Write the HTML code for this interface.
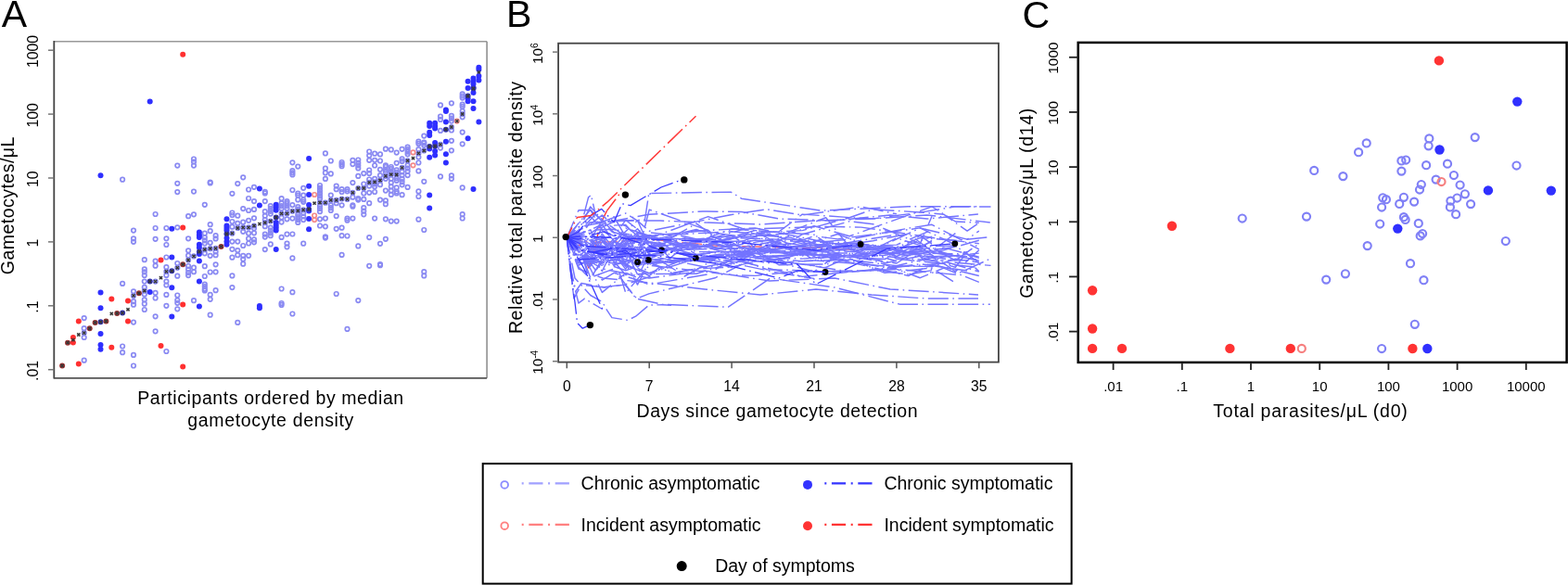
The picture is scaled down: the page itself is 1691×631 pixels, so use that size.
<!DOCTYPE html>
<html><head><meta charset="utf-8"><title>Figure</title>
<style>
html,body{margin:0;padding:0;background:#fff;overflow:hidden;}
svg{display:block;font-family:'Liberation Sans', Arial, Helvetica, sans-serif;fill:#000;}
text{fill:#000;}
</style></head><body>
<svg width="1691" height="631" viewBox="0 0 1691 631">
<rect width="1691" height="631" fill="#fff"/>
<text x="1.80" y="28.80" font-size="41" text-anchor="start" >A</text>
<circle cx="90.7" cy="343.1" r="2.25" fill="none" stroke="#8a8af2" stroke-width="1.7"/>
<circle cx="90.7" cy="354.2" r="2.25" fill="none" stroke="#8a8af2" stroke-width="1.7"/>
<circle cx="90.7" cy="359.1" r="2.25" fill="none" stroke="#8a8af2" stroke-width="1.7"/>
<circle cx="90.7" cy="364.0" r="2.25" fill="none" stroke="#8a8af2" stroke-width="1.7"/>
<circle cx="90.7" cy="388.7" r="2.25" fill="none" stroke="#8a8af2" stroke-width="1.7"/>
<circle cx="132.1" cy="193.7" r="2.25" fill="none" stroke="#8a8af2" stroke-width="1.7"/>
<circle cx="132.1" cy="305.9" r="2.25" fill="none" stroke="#8a8af2" stroke-width="1.7"/>
<circle cx="132.1" cy="373.5" r="2.25" fill="none" stroke="#8a8af2" stroke-width="1.7"/>
<circle cx="132.1" cy="380.2" r="2.25" fill="none" stroke="#8a8af2" stroke-width="1.7"/>
<circle cx="144.0" cy="248.6" r="2.25" fill="none" stroke="#8a8af2" stroke-width="1.7"/>
<circle cx="144.0" cy="257.3" r="2.25" fill="none" stroke="#8a8af2" stroke-width="1.7"/>
<circle cx="144.0" cy="260.8" r="2.25" fill="none" stroke="#8a8af2" stroke-width="1.7"/>
<circle cx="144.0" cy="314.3" r="2.25" fill="none" stroke="#8a8af2" stroke-width="1.7"/>
<circle cx="144.0" cy="318.9" r="2.25" fill="none" stroke="#8a8af2" stroke-width="1.7"/>
<circle cx="144.0" cy="325.2" r="2.25" fill="none" stroke="#8a8af2" stroke-width="1.7"/>
<circle cx="144.0" cy="328.7" r="2.25" fill="none" stroke="#8a8af2" stroke-width="1.7"/>
<circle cx="144.0" cy="347.6" r="2.25" fill="none" stroke="#8a8af2" stroke-width="1.7"/>
<circle cx="144.0" cy="382.9" r="2.25" fill="none" stroke="#8a8af2" stroke-width="1.7"/>
<circle cx="144.0" cy="394.5" r="2.25" fill="none" stroke="#8a8af2" stroke-width="1.7"/>
<circle cx="155.8" cy="280.2" r="2.25" fill="none" stroke="#8a8af2" stroke-width="1.7"/>
<circle cx="155.8" cy="290.4" r="2.25" fill="none" stroke="#8a8af2" stroke-width="1.7"/>
<circle cx="155.8" cy="293.3" r="2.25" fill="none" stroke="#8a8af2" stroke-width="1.7"/>
<circle cx="155.8" cy="297.1" r="2.25" fill="none" stroke="#8a8af2" stroke-width="1.7"/>
<circle cx="155.8" cy="303.6" r="2.25" fill="none" stroke="#8a8af2" stroke-width="1.7"/>
<circle cx="155.8" cy="309.9" r="2.25" fill="none" stroke="#8a8af2" stroke-width="1.7"/>
<circle cx="155.8" cy="313.7" r="2.25" fill="none" stroke="#8a8af2" stroke-width="1.7"/>
<circle cx="155.8" cy="317.4" r="2.25" fill="none" stroke="#8a8af2" stroke-width="1.7"/>
<circle cx="155.8" cy="323.3" r="2.25" fill="none" stroke="#8a8af2" stroke-width="1.7"/>
<circle cx="155.8" cy="327.7" r="2.25" fill="none" stroke="#8a8af2" stroke-width="1.7"/>
<circle cx="155.8" cy="334.0" r="2.25" fill="none" stroke="#8a8af2" stroke-width="1.7"/>
<circle cx="167.6" cy="231.0" r="2.25" fill="none" stroke="#8a8af2" stroke-width="1.7"/>
<circle cx="167.6" cy="246.0" r="2.25" fill="none" stroke="#8a8af2" stroke-width="1.7"/>
<circle cx="167.6" cy="257.8" r="2.25" fill="none" stroke="#8a8af2" stroke-width="1.7"/>
<circle cx="167.6" cy="281.6" r="2.25" fill="none" stroke="#8a8af2" stroke-width="1.7"/>
<circle cx="167.6" cy="286.7" r="2.25" fill="none" stroke="#8a8af2" stroke-width="1.7"/>
<circle cx="167.6" cy="303.6" r="2.25" fill="none" stroke="#8a8af2" stroke-width="1.7"/>
<circle cx="167.6" cy="315.9" r="2.25" fill="none" stroke="#8a8af2" stroke-width="1.7"/>
<circle cx="167.6" cy="321.5" r="2.25" fill="none" stroke="#8a8af2" stroke-width="1.7"/>
<circle cx="167.6" cy="341.3" r="2.25" fill="none" stroke="#8a8af2" stroke-width="1.7"/>
<circle cx="167.6" cy="357.3" r="2.25" fill="none" stroke="#8a8af2" stroke-width="1.7"/>
<circle cx="179.4" cy="246.0" r="2.25" fill="none" stroke="#8a8af2" stroke-width="1.7"/>
<circle cx="179.4" cy="257.3" r="2.25" fill="none" stroke="#8a8af2" stroke-width="1.7"/>
<circle cx="179.4" cy="264.0" r="2.25" fill="none" stroke="#8a8af2" stroke-width="1.7"/>
<circle cx="179.4" cy="277.5" r="2.25" fill="none" stroke="#8a8af2" stroke-width="1.7"/>
<circle cx="179.4" cy="288.2" r="2.25" fill="none" stroke="#8a8af2" stroke-width="1.7"/>
<circle cx="179.4" cy="292.9" r="2.25" fill="none" stroke="#8a8af2" stroke-width="1.7"/>
<circle cx="179.4" cy="296.9" r="2.25" fill="none" stroke="#8a8af2" stroke-width="1.7"/>
<circle cx="179.4" cy="303.6" r="2.25" fill="none" stroke="#8a8af2" stroke-width="1.7"/>
<circle cx="179.4" cy="307.5" r="2.25" fill="none" stroke="#8a8af2" stroke-width="1.7"/>
<circle cx="179.4" cy="317.9" r="2.25" fill="none" stroke="#8a8af2" stroke-width="1.7"/>
<circle cx="179.4" cy="329.8" r="2.25" fill="none" stroke="#8a8af2" stroke-width="1.7"/>
<circle cx="179.4" cy="379.0" r="2.25" fill="none" stroke="#8a8af2" stroke-width="1.7"/>
<circle cx="191.3" cy="178.6" r="2.25" fill="none" stroke="#8a8af2" stroke-width="1.7"/>
<circle cx="191.3" cy="197.8" r="2.25" fill="none" stroke="#8a8af2" stroke-width="1.7"/>
<circle cx="191.3" cy="207.1" r="2.25" fill="none" stroke="#8a8af2" stroke-width="1.7"/>
<circle cx="191.3" cy="245.3" r="2.25" fill="none" stroke="#8a8af2" stroke-width="1.7"/>
<circle cx="191.3" cy="284.0" r="2.25" fill="none" stroke="#8a8af2" stroke-width="1.7"/>
<circle cx="191.3" cy="288.8" r="2.25" fill="none" stroke="#8a8af2" stroke-width="1.7"/>
<circle cx="191.3" cy="297.7" r="2.25" fill="none" stroke="#8a8af2" stroke-width="1.7"/>
<circle cx="191.3" cy="318.5" r="2.25" fill="none" stroke="#8a8af2" stroke-width="1.7"/>
<circle cx="191.3" cy="323.8" r="2.25" fill="none" stroke="#8a8af2" stroke-width="1.7"/>
<circle cx="191.3" cy="326.8" r="2.25" fill="none" stroke="#8a8af2" stroke-width="1.7"/>
<circle cx="191.3" cy="333.3" r="2.25" fill="none" stroke="#8a8af2" stroke-width="1.7"/>
<circle cx="203.1" cy="233.2" r="2.25" fill="none" stroke="#8a8af2" stroke-width="1.7"/>
<circle cx="203.1" cy="257.3" r="2.25" fill="none" stroke="#8a8af2" stroke-width="1.7"/>
<circle cx="203.1" cy="270.3" r="2.25" fill="none" stroke="#8a8af2" stroke-width="1.7"/>
<circle cx="203.1" cy="275.7" r="2.25" fill="none" stroke="#8a8af2" stroke-width="1.7"/>
<circle cx="203.1" cy="280.5" r="2.25" fill="none" stroke="#8a8af2" stroke-width="1.7"/>
<circle cx="203.1" cy="287.0" r="2.25" fill="none" stroke="#8a8af2" stroke-width="1.7"/>
<circle cx="203.1" cy="290.6" r="2.25" fill="none" stroke="#8a8af2" stroke-width="1.7"/>
<circle cx="203.1" cy="294.1" r="2.25" fill="none" stroke="#8a8af2" stroke-width="1.7"/>
<circle cx="203.1" cy="297.1" r="2.25" fill="none" stroke="#8a8af2" stroke-width="1.7"/>
<circle cx="209.0" cy="171.5" r="2.25" fill="none" stroke="#8a8af2" stroke-width="1.7"/>
<circle cx="209.0" cy="174.5" r="2.25" fill="none" stroke="#8a8af2" stroke-width="1.7"/>
<circle cx="209.0" cy="178.6" r="2.25" fill="none" stroke="#8a8af2" stroke-width="1.7"/>
<circle cx="209.0" cy="206.6" r="2.25" fill="none" stroke="#8a8af2" stroke-width="1.7"/>
<circle cx="209.0" cy="231.3" r="2.25" fill="none" stroke="#8a8af2" stroke-width="1.7"/>
<circle cx="209.0" cy="276.4" r="2.25" fill="none" stroke="#8a8af2" stroke-width="1.7"/>
<circle cx="209.0" cy="288.7" r="2.25" fill="none" stroke="#8a8af2" stroke-width="1.7"/>
<circle cx="209.0" cy="293.2" r="2.25" fill="none" stroke="#8a8af2" stroke-width="1.7"/>
<circle cx="209.0" cy="324.2" r="2.25" fill="none" stroke="#8a8af2" stroke-width="1.7"/>
<circle cx="220.8" cy="251.7" r="2.25" fill="none" stroke="#8a8af2" stroke-width="1.7"/>
<circle cx="220.8" cy="256.1" r="2.25" fill="none" stroke="#8a8af2" stroke-width="1.7"/>
<circle cx="220.8" cy="259.3" r="2.25" fill="none" stroke="#8a8af2" stroke-width="1.7"/>
<circle cx="220.8" cy="262.5" r="2.25" fill="none" stroke="#8a8af2" stroke-width="1.7"/>
<circle cx="220.8" cy="269.2" r="2.25" fill="none" stroke="#8a8af2" stroke-width="1.7"/>
<circle cx="220.8" cy="273.3" r="2.25" fill="none" stroke="#8a8af2" stroke-width="1.7"/>
<circle cx="220.8" cy="287.2" r="2.25" fill="none" stroke="#8a8af2" stroke-width="1.7"/>
<circle cx="220.8" cy="298.0" r="2.25" fill="none" stroke="#8a8af2" stroke-width="1.7"/>
<circle cx="226.7" cy="242.2" r="2.25" fill="none" stroke="#8a8af2" stroke-width="1.7"/>
<circle cx="226.7" cy="249.2" r="2.25" fill="none" stroke="#8a8af2" stroke-width="1.7"/>
<circle cx="226.7" cy="261.8" r="2.25" fill="none" stroke="#8a8af2" stroke-width="1.7"/>
<circle cx="226.7" cy="268.2" r="2.25" fill="none" stroke="#8a8af2" stroke-width="1.7"/>
<circle cx="226.7" cy="275.8" r="2.25" fill="none" stroke="#8a8af2" stroke-width="1.7"/>
<circle cx="226.7" cy="293.5" r="2.25" fill="none" stroke="#8a8af2" stroke-width="1.7"/>
<circle cx="232.6" cy="254.2" r="2.25" fill="none" stroke="#8a8af2" stroke-width="1.7"/>
<circle cx="232.6" cy="257.4" r="2.25" fill="none" stroke="#8a8af2" stroke-width="1.7"/>
<circle cx="232.6" cy="267.9" r="2.25" fill="none" stroke="#8a8af2" stroke-width="1.7"/>
<circle cx="232.6" cy="271.4" r="2.25" fill="none" stroke="#8a8af2" stroke-width="1.7"/>
<circle cx="232.6" cy="275.2" r="2.25" fill="none" stroke="#8a8af2" stroke-width="1.7"/>
<circle cx="232.6" cy="285.3" r="2.25" fill="none" stroke="#8a8af2" stroke-width="1.7"/>
<circle cx="232.6" cy="293.3" r="2.25" fill="none" stroke="#8a8af2" stroke-width="1.7"/>
<circle cx="250.4" cy="229.5" r="2.25" fill="none" stroke="#8a8af2" stroke-width="1.7"/>
<circle cx="250.4" cy="232.0" r="2.25" fill="none" stroke="#8a8af2" stroke-width="1.7"/>
<circle cx="250.4" cy="239.0" r="2.25" fill="none" stroke="#8a8af2" stroke-width="1.7"/>
<circle cx="250.4" cy="244.7" r="2.25" fill="none" stroke="#8a8af2" stroke-width="1.7"/>
<circle cx="250.4" cy="251.7" r="2.25" fill="none" stroke="#8a8af2" stroke-width="1.7"/>
<circle cx="250.4" cy="260.6" r="2.25" fill="none" stroke="#8a8af2" stroke-width="1.7"/>
<circle cx="250.4" cy="268.8" r="2.25" fill="none" stroke="#8a8af2" stroke-width="1.7"/>
<circle cx="250.4" cy="277.7" r="2.25" fill="none" stroke="#8a8af2" stroke-width="1.7"/>
<circle cx="250.4" cy="297.4" r="2.25" fill="none" stroke="#8a8af2" stroke-width="1.7"/>
<circle cx="256.3" cy="232.7" r="2.25" fill="none" stroke="#8a8af2" stroke-width="1.7"/>
<circle cx="256.3" cy="240.9" r="2.25" fill="none" stroke="#8a8af2" stroke-width="1.7"/>
<circle cx="256.3" cy="246.0" r="2.25" fill="none" stroke="#8a8af2" stroke-width="1.7"/>
<circle cx="256.3" cy="260.6" r="2.25" fill="none" stroke="#8a8af2" stroke-width="1.7"/>
<circle cx="256.3" cy="270.1" r="2.25" fill="none" stroke="#8a8af2" stroke-width="1.7"/>
<circle cx="256.3" cy="275.2" r="2.25" fill="none" stroke="#8a8af2" stroke-width="1.7"/>
<circle cx="262.2" cy="225.1" r="2.25" fill="none" stroke="#8a8af2" stroke-width="1.7"/>
<circle cx="262.2" cy="239.7" r="2.25" fill="none" stroke="#8a8af2" stroke-width="1.7"/>
<circle cx="262.2" cy="245.4" r="2.25" fill="none" stroke="#8a8af2" stroke-width="1.7"/>
<circle cx="262.2" cy="249.8" r="2.25" fill="none" stroke="#8a8af2" stroke-width="1.7"/>
<circle cx="262.2" cy="265.0" r="2.25" fill="none" stroke="#8a8af2" stroke-width="1.7"/>
<circle cx="262.2" cy="275.8" r="2.25" fill="none" stroke="#8a8af2" stroke-width="1.7"/>
<circle cx="262.2" cy="279.6" r="2.25" fill="none" stroke="#8a8af2" stroke-width="1.7"/>
<circle cx="262.2" cy="284.7" r="2.25" fill="none" stroke="#8a8af2" stroke-width="1.7"/>
<circle cx="268.1" cy="227.0" r="2.25" fill="none" stroke="#8a8af2" stroke-width="1.7"/>
<circle cx="268.1" cy="237.8" r="2.25" fill="none" stroke="#8a8af2" stroke-width="1.7"/>
<circle cx="268.1" cy="245.4" r="2.25" fill="none" stroke="#8a8af2" stroke-width="1.7"/>
<circle cx="268.1" cy="251.7" r="2.25" fill="none" stroke="#8a8af2" stroke-width="1.7"/>
<circle cx="268.1" cy="257.4" r="2.25" fill="none" stroke="#8a8af2" stroke-width="1.7"/>
<circle cx="268.1" cy="262.5" r="2.25" fill="none" stroke="#8a8af2" stroke-width="1.7"/>
<circle cx="268.1" cy="275.8" r="2.25" fill="none" stroke="#8a8af2" stroke-width="1.7"/>
<circle cx="220.8" cy="220.8" r="2.25" fill="none" stroke="#8a8af2" stroke-width="1.7"/>
<circle cx="220.8" cy="306.6" r="2.25" fill="none" stroke="#8a8af2" stroke-width="1.7"/>
<circle cx="220.8" cy="309.2" r="2.25" fill="none" stroke="#8a8af2" stroke-width="1.7"/>
<circle cx="220.8" cy="311.8" r="2.25" fill="none" stroke="#8a8af2" stroke-width="1.7"/>
<circle cx="220.8" cy="313.5" r="2.25" fill="none" stroke="#8a8af2" stroke-width="1.7"/>
<circle cx="226.7" cy="196.5" r="2.25" fill="none" stroke="#8a8af2" stroke-width="1.7"/>
<circle cx="226.7" cy="197.5" r="2.25" fill="none" stroke="#8a8af2" stroke-width="1.7"/>
<circle cx="226.7" cy="317.9" r="2.25" fill="none" stroke="#8a8af2" stroke-width="1.7"/>
<circle cx="226.7" cy="322.8" r="2.25" fill="none" stroke="#8a8af2" stroke-width="1.7"/>
<circle cx="226.7" cy="339.7" r="2.25" fill="none" stroke="#8a8af2" stroke-width="1.7"/>
<circle cx="232.6" cy="313.2" r="2.25" fill="none" stroke="#8a8af2" stroke-width="1.7"/>
<circle cx="250.4" cy="208.8" r="2.25" fill="none" stroke="#8a8af2" stroke-width="1.7"/>
<circle cx="250.4" cy="310.1" r="2.25" fill="none" stroke="#8a8af2" stroke-width="1.7"/>
<circle cx="256.3" cy="198.1" r="2.25" fill="none" stroke="#8a8af2" stroke-width="1.7"/>
<circle cx="256.3" cy="347.9" r="2.25" fill="none" stroke="#8a8af2" stroke-width="1.7"/>
<circle cx="262.2" cy="191.3" r="2.25" fill="none" stroke="#8a8af2" stroke-width="1.7"/>
<circle cx="268.1" cy="204.5" r="2.25" fill="none" stroke="#8a8af2" stroke-width="1.7"/>
<circle cx="268.1" cy="214.0" r="2.25" fill="none" stroke="#8a8af2" stroke-width="1.7"/>
<circle cx="274.0" cy="201.8" r="2.25" fill="none" stroke="#8a8af2" stroke-width="1.7"/>
<circle cx="274.0" cy="217.1" r="2.25" fill="none" stroke="#8a8af2" stroke-width="1.7"/>
<circle cx="274.0" cy="225.9" r="2.25" fill="none" stroke="#8a8af2" stroke-width="1.7"/>
<circle cx="285.8" cy="206.9" r="2.25" fill="none" stroke="#8a8af2" stroke-width="1.7"/>
<circle cx="285.8" cy="208.4" r="2.25" fill="none" stroke="#8a8af2" stroke-width="1.7"/>
<circle cx="285.8" cy="217.1" r="2.25" fill="none" stroke="#8a8af2" stroke-width="1.7"/>
<circle cx="285.8" cy="228.2" r="2.25" fill="none" stroke="#8a8af2" stroke-width="1.7"/>
<circle cx="274.0" cy="235.3" r="2.25" fill="none" stroke="#8a8af2" stroke-width="1.7"/>
<circle cx="274.0" cy="243.5" r="2.25" fill="none" stroke="#8a8af2" stroke-width="1.7"/>
<circle cx="274.0" cy="246.3" r="2.25" fill="none" stroke="#8a8af2" stroke-width="1.7"/>
<circle cx="274.0" cy="251.3" r="2.25" fill="none" stroke="#8a8af2" stroke-width="1.7"/>
<circle cx="274.0" cy="258.4" r="2.25" fill="none" stroke="#8a8af2" stroke-width="1.7"/>
<circle cx="274.0" cy="261.3" r="2.25" fill="none" stroke="#8a8af2" stroke-width="1.7"/>
<circle cx="285.8" cy="232.8" r="2.25" fill="none" stroke="#8a8af2" stroke-width="1.7"/>
<circle cx="285.8" cy="237.0" r="2.25" fill="none" stroke="#8a8af2" stroke-width="1.7"/>
<circle cx="285.8" cy="240.2" r="2.25" fill="none" stroke="#8a8af2" stroke-width="1.7"/>
<circle cx="285.8" cy="244.2" r="2.25" fill="none" stroke="#8a8af2" stroke-width="1.7"/>
<circle cx="285.8" cy="252.7" r="2.25" fill="none" stroke="#8a8af2" stroke-width="1.7"/>
<circle cx="285.8" cy="255.6" r="2.25" fill="none" stroke="#8a8af2" stroke-width="1.7"/>
<circle cx="285.8" cy="269.1" r="2.25" fill="none" stroke="#8a8af2" stroke-width="1.7"/>
<circle cx="291.8" cy="222.1" r="2.25" fill="none" stroke="#8a8af2" stroke-width="1.7"/>
<circle cx="291.8" cy="224.9" r="2.25" fill="none" stroke="#8a8af2" stroke-width="1.7"/>
<circle cx="291.8" cy="227.8" r="2.25" fill="none" stroke="#8a8af2" stroke-width="1.7"/>
<circle cx="291.8" cy="230.6" r="2.25" fill="none" stroke="#8a8af2" stroke-width="1.7"/>
<circle cx="291.8" cy="238.5" r="2.25" fill="none" stroke="#8a8af2" stroke-width="1.7"/>
<circle cx="291.8" cy="245.6" r="2.25" fill="none" stroke="#8a8af2" stroke-width="1.7"/>
<circle cx="291.8" cy="248.5" r="2.25" fill="none" stroke="#8a8af2" stroke-width="1.7"/>
<circle cx="291.8" cy="251.3" r="2.25" fill="none" stroke="#8a8af2" stroke-width="1.7"/>
<circle cx="291.8" cy="254.2" r="2.25" fill="none" stroke="#8a8af2" stroke-width="1.7"/>
<circle cx="291.8" cy="263.4" r="2.25" fill="none" stroke="#8a8af2" stroke-width="1.7"/>
<circle cx="303.6" cy="214.2" r="2.25" fill="none" stroke="#8a8af2" stroke-width="1.7"/>
<circle cx="303.6" cy="219.2" r="2.25" fill="none" stroke="#8a8af2" stroke-width="1.7"/>
<circle cx="303.6" cy="222.1" r="2.25" fill="none" stroke="#8a8af2" stroke-width="1.7"/>
<circle cx="303.6" cy="224.9" r="2.25" fill="none" stroke="#8a8af2" stroke-width="1.7"/>
<circle cx="303.6" cy="230.4" r="2.25" fill="none" stroke="#8a8af2" stroke-width="1.7"/>
<circle cx="303.6" cy="234.5" r="2.25" fill="none" stroke="#8a8af2" stroke-width="1.7"/>
<circle cx="303.6" cy="239.6" r="2.25" fill="none" stroke="#8a8af2" stroke-width="1.7"/>
<circle cx="303.6" cy="255.9" r="2.25" fill="none" stroke="#8a8af2" stroke-width="1.7"/>
<circle cx="309.5" cy="217.1" r="2.25" fill="none" stroke="#8a8af2" stroke-width="1.7"/>
<circle cx="309.5" cy="219.2" r="2.25" fill="none" stroke="#8a8af2" stroke-width="1.7"/>
<circle cx="309.5" cy="222.1" r="2.25" fill="none" stroke="#8a8af2" stroke-width="1.7"/>
<circle cx="309.5" cy="224.9" r="2.25" fill="none" stroke="#8a8af2" stroke-width="1.7"/>
<circle cx="309.5" cy="230.4" r="2.25" fill="none" stroke="#8a8af2" stroke-width="1.7"/>
<circle cx="309.5" cy="236.3" r="2.25" fill="none" stroke="#8a8af2" stroke-width="1.7"/>
<circle cx="309.5" cy="252.7" r="2.25" fill="none" stroke="#8a8af2" stroke-width="1.7"/>
<circle cx="309.5" cy="262.7" r="2.25" fill="none" stroke="#8a8af2" stroke-width="1.7"/>
<circle cx="309.5" cy="266.3" r="2.25" fill="none" stroke="#8a8af2" stroke-width="1.7"/>
<circle cx="315.4" cy="205.0" r="2.25" fill="none" stroke="#8a8af2" stroke-width="1.7"/>
<circle cx="315.4" cy="221.1" r="2.25" fill="none" stroke="#8a8af2" stroke-width="1.7"/>
<circle cx="315.4" cy="227.8" r="2.25" fill="none" stroke="#8a8af2" stroke-width="1.7"/>
<circle cx="315.4" cy="235.6" r="2.25" fill="none" stroke="#8a8af2" stroke-width="1.7"/>
<circle cx="315.4" cy="252.5" r="2.25" fill="none" stroke="#8a8af2" stroke-width="1.7"/>
<circle cx="315.4" cy="278.4" r="2.25" fill="none" stroke="#8a8af2" stroke-width="1.7"/>
<circle cx="321.3" cy="208.5" r="2.25" fill="none" stroke="#8a8af2" stroke-width="1.7"/>
<circle cx="321.3" cy="210.7" r="2.25" fill="none" stroke="#8a8af2" stroke-width="1.7"/>
<circle cx="321.3" cy="215.4" r="2.25" fill="none" stroke="#8a8af2" stroke-width="1.7"/>
<circle cx="321.3" cy="223.1" r="2.25" fill="none" stroke="#8a8af2" stroke-width="1.7"/>
<circle cx="321.3" cy="225.7" r="2.25" fill="none" stroke="#8a8af2" stroke-width="1.7"/>
<circle cx="321.3" cy="227.4" r="2.25" fill="none" stroke="#8a8af2" stroke-width="1.7"/>
<circle cx="321.3" cy="231.4" r="2.25" fill="none" stroke="#8a8af2" stroke-width="1.7"/>
<circle cx="321.3" cy="234.2" r="2.25" fill="none" stroke="#8a8af2" stroke-width="1.7"/>
<circle cx="321.3" cy="237.1" r="2.25" fill="none" stroke="#8a8af2" stroke-width="1.7"/>
<circle cx="321.3" cy="239.9" r="2.25" fill="none" stroke="#8a8af2" stroke-width="1.7"/>
<circle cx="327.2" cy="202.8" r="2.25" fill="none" stroke="#8a8af2" stroke-width="1.7"/>
<circle cx="327.2" cy="210.7" r="2.25" fill="none" stroke="#8a8af2" stroke-width="1.7"/>
<circle cx="327.2" cy="215.7" r="2.25" fill="none" stroke="#8a8af2" stroke-width="1.7"/>
<circle cx="327.2" cy="217.8" r="2.25" fill="none" stroke="#8a8af2" stroke-width="1.7"/>
<circle cx="327.2" cy="226.4" r="2.25" fill="none" stroke="#8a8af2" stroke-width="1.7"/>
<circle cx="327.2" cy="229.9" r="2.25" fill="none" stroke="#8a8af2" stroke-width="1.7"/>
<circle cx="327.2" cy="233.5" r="2.25" fill="none" stroke="#8a8af2" stroke-width="1.7"/>
<circle cx="327.2" cy="237.1" r="2.25" fill="none" stroke="#8a8af2" stroke-width="1.7"/>
<circle cx="327.2" cy="262.7" r="2.25" fill="none" stroke="#8a8af2" stroke-width="1.7"/>
<circle cx="345.0" cy="200.0" r="2.25" fill="none" stroke="#8a8af2" stroke-width="1.7"/>
<circle cx="345.0" cy="202.8" r="2.25" fill="none" stroke="#8a8af2" stroke-width="1.7"/>
<circle cx="345.0" cy="205.7" r="2.25" fill="none" stroke="#8a8af2" stroke-width="1.7"/>
<circle cx="345.0" cy="208.5" r="2.25" fill="none" stroke="#8a8af2" stroke-width="1.7"/>
<circle cx="345.0" cy="211.4" r="2.25" fill="none" stroke="#8a8af2" stroke-width="1.7"/>
<circle cx="345.0" cy="214.2" r="2.25" fill="none" stroke="#8a8af2" stroke-width="1.7"/>
<circle cx="345.0" cy="218.5" r="2.25" fill="none" stroke="#8a8af2" stroke-width="1.7"/>
<circle cx="345.0" cy="222.1" r="2.25" fill="none" stroke="#8a8af2" stroke-width="1.7"/>
<circle cx="345.0" cy="224.9" r="2.25" fill="none" stroke="#8a8af2" stroke-width="1.7"/>
<circle cx="345.0" cy="228.2" r="2.25" fill="none" stroke="#8a8af2" stroke-width="1.7"/>
<circle cx="345.0" cy="236.3" r="2.25" fill="none" stroke="#8a8af2" stroke-width="1.7"/>
<circle cx="345.0" cy="243.5" r="2.25" fill="none" stroke="#8a8af2" stroke-width="1.7"/>
<circle cx="350.9" cy="192.9" r="2.25" fill="none" stroke="#8a8af2" stroke-width="1.7"/>
<circle cx="350.9" cy="255.6" r="2.25" fill="none" stroke="#8a8af2" stroke-width="1.7"/>
<circle cx="303.6" cy="311.5" r="2.25" fill="none" stroke="#8a8af2" stroke-width="1.7"/>
<circle cx="303.6" cy="327.0" r="2.25" fill="none" stroke="#8a8af2" stroke-width="1.7"/>
<circle cx="303.6" cy="328.9" r="2.25" fill="none" stroke="#8a8af2" stroke-width="1.7"/>
<circle cx="315.4" cy="315.2" r="2.25" fill="none" stroke="#8a8af2" stroke-width="1.7"/>
<circle cx="315.4" cy="338.5" r="2.25" fill="none" stroke="#8a8af2" stroke-width="1.7"/>
<circle cx="350.9" cy="165.4" r="2.25" fill="none" stroke="#8a8af2" stroke-width="1.7"/>
<circle cx="350.9" cy="181.7" r="2.25" fill="none" stroke="#8a8af2" stroke-width="1.7"/>
<circle cx="350.9" cy="186.4" r="2.25" fill="none" stroke="#8a8af2" stroke-width="1.7"/>
<circle cx="350.9" cy="218.7" r="2.25" fill="none" stroke="#8a8af2" stroke-width="1.7"/>
<circle cx="350.9" cy="235.6" r="2.25" fill="none" stroke="#8a8af2" stroke-width="1.7"/>
<circle cx="356.8" cy="173.5" r="2.25" fill="none" stroke="#8a8af2" stroke-width="1.7"/>
<circle cx="356.8" cy="187.4" r="2.25" fill="none" stroke="#8a8af2" stroke-width="1.7"/>
<circle cx="356.8" cy="210.6" r="2.25" fill="none" stroke="#8a8af2" stroke-width="1.7"/>
<circle cx="356.8" cy="215.9" r="2.25" fill="none" stroke="#8a8af2" stroke-width="1.7"/>
<circle cx="356.8" cy="221.3" r="2.25" fill="none" stroke="#8a8af2" stroke-width="1.7"/>
<circle cx="356.8" cy="224.2" r="2.25" fill="none" stroke="#8a8af2" stroke-width="1.7"/>
<circle cx="356.8" cy="227.0" r="2.25" fill="none" stroke="#8a8af2" stroke-width="1.7"/>
<circle cx="362.7" cy="200.6" r="2.25" fill="none" stroke="#8a8af2" stroke-width="1.7"/>
<circle cx="362.7" cy="204.2" r="2.25" fill="none" stroke="#8a8af2" stroke-width="1.7"/>
<circle cx="362.7" cy="215.9" r="2.25" fill="none" stroke="#8a8af2" stroke-width="1.7"/>
<circle cx="362.7" cy="219.2" r="2.25" fill="none" stroke="#8a8af2" stroke-width="1.7"/>
<circle cx="362.7" cy="233.1" r="2.25" fill="none" stroke="#8a8af2" stroke-width="1.7"/>
<circle cx="368.6" cy="175.0" r="2.25" fill="none" stroke="#8a8af2" stroke-width="1.7"/>
<circle cx="368.6" cy="177.1" r="2.25" fill="none" stroke="#8a8af2" stroke-width="1.7"/>
<circle cx="368.6" cy="179.2" r="2.25" fill="none" stroke="#8a8af2" stroke-width="1.7"/>
<circle cx="368.6" cy="204.2" r="2.25" fill="none" stroke="#8a8af2" stroke-width="1.7"/>
<circle cx="368.6" cy="207.0" r="2.25" fill="none" stroke="#8a8af2" stroke-width="1.7"/>
<circle cx="368.6" cy="214.5" r="2.25" fill="none" stroke="#8a8af2" stroke-width="1.7"/>
<circle cx="368.6" cy="221.3" r="2.25" fill="none" stroke="#8a8af2" stroke-width="1.7"/>
<circle cx="374.5" cy="204.2" r="2.25" fill="none" stroke="#8a8af2" stroke-width="1.7"/>
<circle cx="374.5" cy="206.3" r="2.25" fill="none" stroke="#8a8af2" stroke-width="1.7"/>
<circle cx="374.5" cy="214.9" r="2.25" fill="none" stroke="#8a8af2" stroke-width="1.7"/>
<circle cx="374.5" cy="235.6" r="2.25" fill="none" stroke="#8a8af2" stroke-width="1.7"/>
<circle cx="374.5" cy="237.7" r="2.25" fill="none" stroke="#8a8af2" stroke-width="1.7"/>
<circle cx="380.4" cy="172.8" r="2.25" fill="none" stroke="#8a8af2" stroke-width="1.7"/>
<circle cx="380.4" cy="177.1" r="2.25" fill="none" stroke="#8a8af2" stroke-width="1.7"/>
<circle cx="380.4" cy="197.1" r="2.25" fill="none" stroke="#8a8af2" stroke-width="1.7"/>
<circle cx="380.4" cy="207.8" r="2.25" fill="none" stroke="#8a8af2" stroke-width="1.7"/>
<circle cx="380.4" cy="212.7" r="2.25" fill="none" stroke="#8a8af2" stroke-width="1.7"/>
<circle cx="380.4" cy="221.3" r="2.25" fill="none" stroke="#8a8af2" stroke-width="1.7"/>
<circle cx="380.4" cy="222.7" r="2.25" fill="none" stroke="#8a8af2" stroke-width="1.7"/>
<circle cx="380.4" cy="235.6" r="2.25" fill="none" stroke="#8a8af2" stroke-width="1.7"/>
<circle cx="386.3" cy="172.5" r="2.25" fill="none" stroke="#8a8af2" stroke-width="1.7"/>
<circle cx="386.3" cy="175.7" r="2.25" fill="none" stroke="#8a8af2" stroke-width="1.7"/>
<circle cx="386.3" cy="178.5" r="2.25" fill="none" stroke="#8a8af2" stroke-width="1.7"/>
<circle cx="386.3" cy="181.4" r="2.25" fill="none" stroke="#8a8af2" stroke-width="1.7"/>
<circle cx="386.3" cy="189.9" r="2.25" fill="none" stroke="#8a8af2" stroke-width="1.7"/>
<circle cx="386.3" cy="203.0" r="2.25" fill="none" stroke="#8a8af2" stroke-width="1.7"/>
<circle cx="386.3" cy="214.2" r="2.25" fill="none" stroke="#8a8af2" stroke-width="1.7"/>
<circle cx="386.3" cy="215.6" r="2.25" fill="none" stroke="#8a8af2" stroke-width="1.7"/>
<circle cx="392.3" cy="187.1" r="2.25" fill="none" stroke="#8a8af2" stroke-width="1.7"/>
<circle cx="392.3" cy="198.5" r="2.25" fill="none" stroke="#8a8af2" stroke-width="1.7"/>
<circle cx="392.3" cy="203.0" r="2.25" fill="none" stroke="#8a8af2" stroke-width="1.7"/>
<circle cx="392.3" cy="208.5" r="2.25" fill="none" stroke="#8a8af2" stroke-width="1.7"/>
<circle cx="392.3" cy="214.9" r="2.25" fill="none" stroke="#8a8af2" stroke-width="1.7"/>
<circle cx="392.3" cy="224.2" r="2.25" fill="none" stroke="#8a8af2" stroke-width="1.7"/>
<circle cx="392.3" cy="227.7" r="2.25" fill="none" stroke="#8a8af2" stroke-width="1.7"/>
<circle cx="392.3" cy="231.3" r="2.25" fill="none" stroke="#8a8af2" stroke-width="1.7"/>
<circle cx="398.2" cy="163.5" r="2.25" fill="none" stroke="#8a8af2" stroke-width="1.7"/>
<circle cx="398.2" cy="167.8" r="2.25" fill="none" stroke="#8a8af2" stroke-width="1.7"/>
<circle cx="398.2" cy="172.8" r="2.25" fill="none" stroke="#8a8af2" stroke-width="1.7"/>
<circle cx="398.2" cy="183.5" r="2.25" fill="none" stroke="#8a8af2" stroke-width="1.7"/>
<circle cx="398.2" cy="187.1" r="2.25" fill="none" stroke="#8a8af2" stroke-width="1.7"/>
<circle cx="398.2" cy="193.5" r="2.25" fill="none" stroke="#8a8af2" stroke-width="1.7"/>
<circle cx="398.2" cy="196.8" r="2.25" fill="none" stroke="#8a8af2" stroke-width="1.7"/>
<circle cx="398.2" cy="200.6" r="2.25" fill="none" stroke="#8a8af2" stroke-width="1.7"/>
<circle cx="398.2" cy="207.8" r="2.25" fill="none" stroke="#8a8af2" stroke-width="1.7"/>
<circle cx="398.2" cy="219.2" r="2.25" fill="none" stroke="#8a8af2" stroke-width="1.7"/>
<circle cx="404.1" cy="165.7" r="2.25" fill="none" stroke="#8a8af2" stroke-width="1.7"/>
<circle cx="404.1" cy="172.8" r="2.25" fill="none" stroke="#8a8af2" stroke-width="1.7"/>
<circle cx="404.1" cy="178.5" r="2.25" fill="none" stroke="#8a8af2" stroke-width="1.7"/>
<circle cx="404.1" cy="192.8" r="2.25" fill="none" stroke="#8a8af2" stroke-width="1.7"/>
<circle cx="404.1" cy="196.3" r="2.25" fill="none" stroke="#8a8af2" stroke-width="1.7"/>
<circle cx="404.1" cy="198.5" r="2.25" fill="none" stroke="#8a8af2" stroke-width="1.7"/>
<circle cx="404.1" cy="201.3" r="2.25" fill="none" stroke="#8a8af2" stroke-width="1.7"/>
<circle cx="404.1" cy="207.0" r="2.25" fill="none" stroke="#8a8af2" stroke-width="1.7"/>
<circle cx="404.1" cy="235.6" r="2.25" fill="none" stroke="#8a8af2" stroke-width="1.7"/>
<circle cx="410.0" cy="166.4" r="2.25" fill="none" stroke="#8a8af2" stroke-width="1.7"/>
<circle cx="410.0" cy="173.5" r="2.25" fill="none" stroke="#8a8af2" stroke-width="1.7"/>
<circle cx="410.0" cy="182.8" r="2.25" fill="none" stroke="#8a8af2" stroke-width="1.7"/>
<circle cx="410.0" cy="189.2" r="2.25" fill="none" stroke="#8a8af2" stroke-width="1.7"/>
<circle cx="410.0" cy="194.5" r="2.25" fill="none" stroke="#8a8af2" stroke-width="1.7"/>
<circle cx="410.0" cy="199.2" r="2.25" fill="none" stroke="#8a8af2" stroke-width="1.7"/>
<circle cx="410.0" cy="215.6" r="2.25" fill="none" stroke="#8a8af2" stroke-width="1.7"/>
<circle cx="415.9" cy="160.7" r="2.25" fill="none" stroke="#8a8af2" stroke-width="1.7"/>
<circle cx="415.9" cy="180.0" r="2.25" fill="none" stroke="#8a8af2" stroke-width="1.7"/>
<circle cx="415.9" cy="183.5" r="2.25" fill="none" stroke="#8a8af2" stroke-width="1.7"/>
<circle cx="415.9" cy="189.9" r="2.25" fill="none" stroke="#8a8af2" stroke-width="1.7"/>
<circle cx="415.9" cy="192.8" r="2.25" fill="none" stroke="#8a8af2" stroke-width="1.7"/>
<circle cx="415.9" cy="205.6" r="2.25" fill="none" stroke="#8a8af2" stroke-width="1.7"/>
<circle cx="415.9" cy="216.3" r="2.25" fill="none" stroke="#8a8af2" stroke-width="1.7"/>
<circle cx="415.9" cy="220.2" r="2.25" fill="none" stroke="#8a8af2" stroke-width="1.7"/>
<circle cx="415.9" cy="236.3" r="2.25" fill="none" stroke="#8a8af2" stroke-width="1.7"/>
<circle cx="421.8" cy="161.4" r="2.25" fill="none" stroke="#8a8af2" stroke-width="1.7"/>
<circle cx="421.8" cy="180.0" r="2.25" fill="none" stroke="#8a8af2" stroke-width="1.7"/>
<circle cx="421.8" cy="188.2" r="2.25" fill="none" stroke="#8a8af2" stroke-width="1.7"/>
<circle cx="421.8" cy="192.8" r="2.25" fill="none" stroke="#8a8af2" stroke-width="1.7"/>
<circle cx="421.8" cy="197.1" r="2.25" fill="none" stroke="#8a8af2" stroke-width="1.7"/>
<circle cx="421.8" cy="201.3" r="2.25" fill="none" stroke="#8a8af2" stroke-width="1.7"/>
<circle cx="421.8" cy="205.6" r="2.25" fill="none" stroke="#8a8af2" stroke-width="1.7"/>
<circle cx="421.8" cy="209.9" r="2.25" fill="none" stroke="#8a8af2" stroke-width="1.7"/>
<circle cx="350.9" cy="244.3" r="2.25" fill="none" stroke="#8a8af2" stroke-width="1.7"/>
<circle cx="350.9" cy="255.6" r="2.25" fill="none" stroke="#8a8af2" stroke-width="1.7"/>
<circle cx="350.9" cy="256.6" r="2.25" fill="none" stroke="#8a8af2" stroke-width="1.7"/>
<circle cx="362.7" cy="246.8" r="2.25" fill="none" stroke="#8a8af2" stroke-width="1.7"/>
<circle cx="362.7" cy="317.0" r="2.25" fill="none" stroke="#8a8af2" stroke-width="1.7"/>
<circle cx="368.6" cy="245.7" r="2.25" fill="none" stroke="#8a8af2" stroke-width="1.7"/>
<circle cx="368.6" cy="254.2" r="2.25" fill="none" stroke="#8a8af2" stroke-width="1.7"/>
<circle cx="368.6" cy="274.9" r="2.25" fill="none" stroke="#8a8af2" stroke-width="1.7"/>
<circle cx="374.5" cy="254.5" r="2.25" fill="none" stroke="#8a8af2" stroke-width="1.7"/>
<circle cx="386.3" cy="265.4" r="2.25" fill="none" stroke="#8a8af2" stroke-width="1.7"/>
<circle cx="398.2" cy="256.1" r="2.25" fill="none" stroke="#8a8af2" stroke-width="1.7"/>
<circle cx="398.2" cy="286.8" r="2.25" fill="none" stroke="#8a8af2" stroke-width="1.7"/>
<circle cx="410.0" cy="262.8" r="2.25" fill="none" stroke="#8a8af2" stroke-width="1.7"/>
<circle cx="410.0" cy="285.0" r="2.25" fill="none" stroke="#8a8af2" stroke-width="1.7"/>
<circle cx="410.0" cy="286.2" r="2.25" fill="none" stroke="#8a8af2" stroke-width="1.7"/>
<circle cx="415.9" cy="257.8" r="2.25" fill="none" stroke="#8a8af2" stroke-width="1.7"/>
<circle cx="421.8" cy="238.6" r="2.25" fill="none" stroke="#8a8af2" stroke-width="1.7"/>
<circle cx="415.9" cy="178.3" r="2.25" fill="none" stroke="#8a8af2" stroke-width="1.7"/>
<circle cx="415.9" cy="185.9" r="2.25" fill="none" stroke="#8a8af2" stroke-width="1.7"/>
<circle cx="421.8" cy="182.1" r="2.25" fill="none" stroke="#8a8af2" stroke-width="1.7"/>
<circle cx="421.8" cy="185.9" r="2.25" fill="none" stroke="#8a8af2" stroke-width="1.7"/>
<circle cx="427.7" cy="164.6" r="2.25" fill="none" stroke="#8a8af2" stroke-width="1.7"/>
<circle cx="427.7" cy="175.8" r="2.25" fill="none" stroke="#8a8af2" stroke-width="1.7"/>
<circle cx="427.7" cy="183.4" r="2.25" fill="none" stroke="#8a8af2" stroke-width="1.7"/>
<circle cx="427.7" cy="185.9" r="2.25" fill="none" stroke="#8a8af2" stroke-width="1.7"/>
<circle cx="427.7" cy="188.5" r="2.25" fill="none" stroke="#8a8af2" stroke-width="1.7"/>
<circle cx="427.7" cy="192.3" r="2.25" fill="none" stroke="#8a8af2" stroke-width="1.7"/>
<circle cx="427.7" cy="194.8" r="2.25" fill="none" stroke="#8a8af2" stroke-width="1.7"/>
<circle cx="433.6" cy="160.8" r="2.25" fill="none" stroke="#8a8af2" stroke-width="1.7"/>
<circle cx="433.6" cy="171.4" r="2.25" fill="none" stroke="#8a8af2" stroke-width="1.7"/>
<circle cx="433.6" cy="173.9" r="2.25" fill="none" stroke="#8a8af2" stroke-width="1.7"/>
<circle cx="433.6" cy="180.9" r="2.25" fill="none" stroke="#8a8af2" stroke-width="1.7"/>
<circle cx="433.6" cy="185.3" r="2.25" fill="none" stroke="#8a8af2" stroke-width="1.7"/>
<circle cx="433.6" cy="189.1" r="2.25" fill="none" stroke="#8a8af2" stroke-width="1.7"/>
<circle cx="433.6" cy="192.9" r="2.25" fill="none" stroke="#8a8af2" stroke-width="1.7"/>
<circle cx="433.6" cy="196.1" r="2.25" fill="none" stroke="#8a8af2" stroke-width="1.7"/>
<circle cx="433.6" cy="199.3" r="2.25" fill="none" stroke="#8a8af2" stroke-width="1.7"/>
<circle cx="439.6" cy="158.7" r="2.25" fill="none" stroke="#8a8af2" stroke-width="1.7"/>
<circle cx="439.6" cy="161.2" r="2.25" fill="none" stroke="#8a8af2" stroke-width="1.7"/>
<circle cx="439.6" cy="163.7" r="2.25" fill="none" stroke="#8a8af2" stroke-width="1.7"/>
<circle cx="439.6" cy="166.3" r="2.25" fill="none" stroke="#8a8af2" stroke-width="1.7"/>
<circle cx="439.6" cy="173.3" r="2.25" fill="none" stroke="#8a8af2" stroke-width="1.7"/>
<circle cx="439.6" cy="178.3" r="2.25" fill="none" stroke="#8a8af2" stroke-width="1.7"/>
<circle cx="439.6" cy="181.5" r="2.25" fill="none" stroke="#8a8af2" stroke-width="1.7"/>
<circle cx="439.6" cy="184.7" r="2.25" fill="none" stroke="#8a8af2" stroke-width="1.7"/>
<circle cx="439.6" cy="189.1" r="2.25" fill="none" stroke="#8a8af2" stroke-width="1.7"/>
<circle cx="451.4" cy="152.7" r="2.25" fill="none" stroke="#8a8af2" stroke-width="1.7"/>
<circle cx="451.4" cy="154.9" r="2.25" fill="none" stroke="#8a8af2" stroke-width="1.7"/>
<circle cx="451.4" cy="161.2" r="2.25" fill="none" stroke="#8a8af2" stroke-width="1.7"/>
<circle cx="451.4" cy="165.4" r="2.25" fill="none" stroke="#8a8af2" stroke-width="1.7"/>
<circle cx="451.4" cy="169.5" r="2.25" fill="none" stroke="#8a8af2" stroke-width="1.7"/>
<circle cx="451.4" cy="175.5" r="2.25" fill="none" stroke="#8a8af2" stroke-width="1.7"/>
<circle cx="451.4" cy="184.4" r="2.25" fill="none" stroke="#8a8af2" stroke-width="1.7"/>
<circle cx="457.3" cy="146.6" r="2.25" fill="none" stroke="#8a8af2" stroke-width="1.7"/>
<circle cx="457.3" cy="153.6" r="2.25" fill="none" stroke="#8a8af2" stroke-width="1.7"/>
<circle cx="457.3" cy="156.8" r="2.25" fill="none" stroke="#8a8af2" stroke-width="1.7"/>
<circle cx="457.3" cy="162.5" r="2.25" fill="none" stroke="#8a8af2" stroke-width="1.7"/>
<circle cx="457.3" cy="195.8" r="2.25" fill="none" stroke="#8a8af2" stroke-width="1.7"/>
<circle cx="475.0" cy="125.7" r="2.25" fill="none" stroke="#8a8af2" stroke-width="1.7"/>
<circle cx="475.0" cy="128.9" r="2.25" fill="none" stroke="#8a8af2" stroke-width="1.7"/>
<circle cx="475.0" cy="140.9" r="2.25" fill="none" stroke="#8a8af2" stroke-width="1.7"/>
<circle cx="475.0" cy="155.8" r="2.25" fill="none" stroke="#8a8af2" stroke-width="1.7"/>
<circle cx="475.0" cy="159.6" r="2.25" fill="none" stroke="#8a8af2" stroke-width="1.7"/>
<circle cx="475.0" cy="190.4" r="2.25" fill="none" stroke="#8a8af2" stroke-width="1.7"/>
<circle cx="475.0" cy="113.4" r="2.25" fill="none" stroke="#8a8af2" stroke-width="1.7"/>
<circle cx="486.9" cy="111.3" r="2.25" fill="none" stroke="#8a8af2" stroke-width="1.7"/>
<circle cx="486.9" cy="124.9" r="2.25" fill="none" stroke="#8a8af2" stroke-width="1.7"/>
<circle cx="486.9" cy="127.7" r="2.25" fill="none" stroke="#8a8af2" stroke-width="1.7"/>
<circle cx="486.9" cy="130.6" r="2.25" fill="none" stroke="#8a8af2" stroke-width="1.7"/>
<circle cx="486.9" cy="137.0" r="2.25" fill="none" stroke="#8a8af2" stroke-width="1.7"/>
<circle cx="498.7" cy="101.3" r="2.25" fill="none" stroke="#8a8af2" stroke-width="1.7"/>
<circle cx="498.7" cy="103.5" r="2.25" fill="none" stroke="#8a8af2" stroke-width="1.7"/>
<circle cx="498.7" cy="105.6" r="2.25" fill="none" stroke="#8a8af2" stroke-width="1.7"/>
<circle cx="498.7" cy="112.7" r="2.25" fill="none" stroke="#8a8af2" stroke-width="1.7"/>
<circle cx="498.7" cy="114.9" r="2.25" fill="none" stroke="#8a8af2" stroke-width="1.7"/>
<circle cx="498.7" cy="119.9" r="2.25" fill="none" stroke="#8a8af2" stroke-width="1.7"/>
<circle cx="498.7" cy="123.0" r="2.25" fill="none" stroke="#8a8af2" stroke-width="1.7"/>
<circle cx="498.7" cy="126.3" r="2.25" fill="none" stroke="#8a8af2" stroke-width="1.7"/>
<circle cx="498.7" cy="142.6" r="2.25" fill="none" stroke="#8a8af2" stroke-width="1.7"/>
<circle cx="498.7" cy="155.3" r="2.25" fill="none" stroke="#8a8af2" stroke-width="1.7"/>
<circle cx="498.7" cy="202.4" r="2.25" fill="none" stroke="#8a8af2" stroke-width="1.7"/>
<circle cx="498.7" cy="231.2" r="2.25" fill="none" stroke="#8a8af2" stroke-width="1.7"/>
<circle cx="498.7" cy="235.5" r="2.25" fill="none" stroke="#8a8af2" stroke-width="1.7"/>
<circle cx="486.9" cy="140.5" r="2.25" fill="none" stroke="#8a8af2" stroke-width="1.7"/>
<circle cx="486.9" cy="151.8" r="2.25" fill="none" stroke="#8a8af2" stroke-width="1.7"/>
<circle cx="486.9" cy="162.3" r="2.25" fill="none" stroke="#8a8af2" stroke-width="1.7"/>
<circle cx="486.9" cy="189.3" r="2.25" fill="none" stroke="#8a8af2" stroke-width="1.7"/>
<circle cx="486.9" cy="192.8" r="2.25" fill="none" stroke="#8a8af2" stroke-width="1.7"/>
<circle cx="457.3" cy="154.4" r="2.25" fill="none" stroke="#8a8af2" stroke-width="1.7"/>
<circle cx="451.4" cy="206.4" r="2.25" fill="none" stroke="#8a8af2" stroke-width="1.7"/>
<circle cx="451.4" cy="212.0" r="2.25" fill="none" stroke="#8a8af2" stroke-width="1.7"/>
<circle cx="451.4" cy="236.7" r="2.25" fill="none" stroke="#8a8af2" stroke-width="1.7"/>
<circle cx="439.6" cy="201.9" r="2.25" fill="none" stroke="#8a8af2" stroke-width="1.7"/>
<circle cx="433.6" cy="210.2" r="2.25" fill="none" stroke="#8a8af2" stroke-width="1.7"/>
<circle cx="427.7" cy="202.4" r="2.25" fill="none" stroke="#8a8af2" stroke-width="1.7"/>
<circle cx="427.7" cy="206.7" r="2.25" fill="none" stroke="#8a8af2" stroke-width="1.7"/>
<circle cx="427.7" cy="208.5" r="2.25" fill="none" stroke="#8a8af2" stroke-width="1.7"/>
<circle cx="315.4" cy="175.3" r="2.25" fill="none" stroke="#8a8af2" stroke-width="1.7"/>
<circle cx="315.4" cy="184.2" r="2.25" fill="none" stroke="#8a8af2" stroke-width="1.7"/>
<circle cx="315.4" cy="186.3" r="2.25" fill="none" stroke="#8a8af2" stroke-width="1.7"/>
<circle cx="315.4" cy="188.4" r="2.25" fill="none" stroke="#8a8af2" stroke-width="1.7"/>
<circle cx="321.3" cy="179.6" r="2.25" fill="none" stroke="#8a8af2" stroke-width="1.7"/>
<circle cx="427.7" cy="238.6" r="2.25" fill="none" stroke="#8a8af2" stroke-width="1.7"/>
<circle cx="457.3" cy="248.0" r="2.25" fill="none" stroke="#8a8af2" stroke-width="1.7"/>
<circle cx="457.3" cy="293.2" r="2.25" fill="none" stroke="#8a8af2" stroke-width="1.7"/>
<circle cx="457.3" cy="297.4" r="2.25" fill="none" stroke="#8a8af2" stroke-width="1.7"/>
<circle cx="386.3" cy="324.1" r="2.25" fill="none" stroke="#8a8af2" stroke-width="1.7"/>
<circle cx="374.5" cy="354.9" r="2.25" fill="none" stroke="#8a8af2" stroke-width="1.7"/>
<circle cx="339.1" cy="210.0" r="2.25" fill="none" stroke="#f48a8a" stroke-width="1.7"/>
<circle cx="339.1" cy="232.5" r="2.25" fill="none" stroke="#f48a8a" stroke-width="1.7"/>
<circle cx="339.1" cy="237.1" r="2.25" fill="none" stroke="#f48a8a" stroke-width="1.7"/>
<circle cx="445.5" cy="164.4" r="2.25" fill="none" stroke="#f48a8a" stroke-width="1.7"/>
<circle cx="445.5" cy="178.3" r="2.25" fill="none" stroke="#f48a8a" stroke-width="1.7"/>
<circle cx="492.8" cy="130.6" r="2.25" fill="none" stroke="#f48a8a" stroke-width="1.7"/>
<circle cx="108.5" cy="189.2" r="3.0" fill="#2f2fff"/>
<circle cx="108.5" cy="315.4" r="3.0" fill="#2f2fff"/>
<circle cx="108.5" cy="332.2" r="3.0" fill="#2f2fff"/>
<circle cx="108.5" cy="359.9" r="3.0" fill="#2f2fff"/>
<circle cx="108.5" cy="372.0" r="3.0" fill="#2f2fff"/>
<circle cx="108.5" cy="376.8" r="3.0" fill="#2f2fff"/>
<circle cx="161.7" cy="314.9" r="3.0" fill="#2f2fff"/>
<circle cx="185.3" cy="246.8" r="3.0" fill="#2f2fff"/>
<circle cx="185.3" cy="277.5" r="3.0" fill="#2f2fff"/>
<circle cx="185.3" cy="310.2" r="3.0" fill="#2f2fff"/>
<circle cx="185.3" cy="341.6" r="3.0" fill="#2f2fff"/>
<circle cx="214.9" cy="250.4" r="3.0" fill="#2f2fff"/>
<circle cx="214.9" cy="253.6" r="3.0" fill="#2f2fff"/>
<circle cx="214.9" cy="256.1" r="3.0" fill="#2f2fff"/>
<circle cx="214.9" cy="263.7" r="3.0" fill="#2f2fff"/>
<circle cx="214.9" cy="266.9" r="3.0" fill="#2f2fff"/>
<circle cx="214.9" cy="273.9" r="3.0" fill="#2f2fff"/>
<circle cx="214.9" cy="281.5" r="3.0" fill="#2f2fff"/>
<circle cx="244.5" cy="236.2" r="3.0" fill="#2f2fff"/>
<circle cx="244.5" cy="243.5" r="3.0" fill="#2f2fff"/>
<circle cx="244.5" cy="246.0" r="3.0" fill="#2f2fff"/>
<circle cx="244.5" cy="248.5" r="3.0" fill="#2f2fff"/>
<circle cx="244.5" cy="256.8" r="3.0" fill="#2f2fff"/>
<circle cx="244.5" cy="260.6" r="3.0" fill="#2f2fff"/>
<circle cx="244.5" cy="263.7" r="3.0" fill="#2f2fff"/>
<circle cx="214.9" cy="303.4" r="3.0" fill="#2f2fff"/>
<circle cx="214.9" cy="330.5" r="3.0" fill="#2f2fff"/>
<circle cx="279.9" cy="203.4" r="3.0" fill="#2f2fff"/>
<circle cx="279.9" cy="221.4" r="3.0" fill="#2f2fff"/>
<circle cx="279.9" cy="330.1" r="3.0" fill="#2f2fff"/>
<circle cx="279.9" cy="332.2" r="3.0" fill="#2f2fff"/>
<circle cx="297.7" cy="220.7" r="3.0" fill="#2f2fff"/>
<circle cx="297.7" cy="223.5" r="3.0" fill="#2f2fff"/>
<circle cx="297.7" cy="226.8" r="3.0" fill="#2f2fff"/>
<circle cx="297.7" cy="239.9" r="3.0" fill="#2f2fff"/>
<circle cx="297.7" cy="242.8" r="3.0" fill="#2f2fff"/>
<circle cx="297.7" cy="245.6" r="3.0" fill="#2f2fff"/>
<circle cx="297.7" cy="248.5" r="3.0" fill="#2f2fff"/>
<circle cx="297.7" cy="268.9" r="3.0" fill="#2f2fff"/>
<circle cx="333.1" cy="200.7" r="3.0" fill="#2f2fff"/>
<circle cx="333.1" cy="210.0" r="3.0" fill="#2f2fff"/>
<circle cx="333.1" cy="221.1" r="3.0" fill="#2f2fff"/>
<circle cx="333.1" cy="227.4" r="3.0" fill="#2f2fff"/>
<circle cx="333.1" cy="235.9" r="3.0" fill="#2f2fff"/>
<circle cx="333.1" cy="247.3" r="3.0" fill="#2f2fff"/>
<circle cx="463.2" cy="132.7" r="3.0" fill="#2f2fff"/>
<circle cx="463.2" cy="135.9" r="3.0" fill="#2f2fff"/>
<circle cx="463.2" cy="142.8" r="3.0" fill="#2f2fff"/>
<circle cx="463.2" cy="146.0" r="3.0" fill="#2f2fff"/>
<circle cx="463.2" cy="160.6" r="3.0" fill="#2f2fff"/>
<circle cx="463.2" cy="169.7" r="3.0" fill="#2f2fff"/>
<circle cx="469.1" cy="132.7" r="3.0" fill="#2f2fff"/>
<circle cx="469.1" cy="135.9" r="3.0" fill="#2f2fff"/>
<circle cx="469.1" cy="138.4" r="3.0" fill="#2f2fff"/>
<circle cx="469.1" cy="154.0" r="3.0" fill="#2f2fff"/>
<circle cx="469.1" cy="163.1" r="3.0" fill="#2f2fff"/>
<circle cx="469.1" cy="167.6" r="3.0" fill="#2f2fff"/>
<circle cx="480.9" cy="120.0" r="3.0" fill="#2f2fff"/>
<circle cx="480.9" cy="131.4" r="3.0" fill="#2f2fff"/>
<circle cx="480.9" cy="152.7" r="3.0" fill="#2f2fff"/>
<circle cx="480.9" cy="166.3" r="3.0" fill="#2f2fff"/>
<circle cx="480.9" cy="175.5" r="3.0" fill="#2f2fff"/>
<circle cx="480.9" cy="118.4" r="3.0" fill="#2f2fff"/>
<circle cx="504.6" cy="87.8" r="3.0" fill="#2f2fff"/>
<circle cx="504.6" cy="94.9" r="3.0" fill="#2f2fff"/>
<circle cx="504.6" cy="106.3" r="3.0" fill="#2f2fff"/>
<circle cx="504.6" cy="109.2" r="3.0" fill="#2f2fff"/>
<circle cx="510.5" cy="84.5" r="3.0" fill="#2f2fff"/>
<circle cx="510.5" cy="87.8" r="3.0" fill="#2f2fff"/>
<circle cx="510.5" cy="90.6" r="3.0" fill="#2f2fff"/>
<circle cx="510.5" cy="94.2" r="3.0" fill="#2f2fff"/>
<circle cx="510.5" cy="99.9" r="3.0" fill="#2f2fff"/>
<circle cx="510.5" cy="109.2" r="3.0" fill="#2f2fff"/>
<circle cx="510.5" cy="117.0" r="3.0" fill="#2f2fff"/>
<circle cx="516.4" cy="72.8" r="3.0" fill="#2f2fff"/>
<circle cx="516.4" cy="75.0" r="3.0" fill="#2f2fff"/>
<circle cx="516.4" cy="82.1" r="3.0" fill="#2f2fff"/>
<circle cx="516.4" cy="86.4" r="3.0" fill="#2f2fff"/>
<circle cx="516.4" cy="131.6" r="3.0" fill="#2f2fff"/>
<circle cx="504.6" cy="149.2" r="3.0" fill="#2f2fff"/>
<circle cx="510.5" cy="204.1" r="3.0" fill="#2f2fff"/>
<circle cx="463.2" cy="210.6" r="3.0" fill="#2f2fff"/>
<circle cx="463.2" cy="224.5" r="3.0" fill="#2f2fff"/>
<circle cx="333.1" cy="171.0" r="3.0" fill="#2f2fff"/>
<circle cx="161.7" cy="109.5" r="3.0" fill="#2f2fff"/>
<circle cx="78.9" cy="364.0" r="3.0" fill="#ff3030"/>
<circle cx="78.9" cy="369.4" r="3.0" fill="#ff3030"/>
<circle cx="84.8" cy="346.5" r="3.0" fill="#ff3030"/>
<circle cx="84.8" cy="392.5" r="3.0" fill="#ff3030"/>
<circle cx="120.3" cy="322.5" r="3.0" fill="#ff3030"/>
<circle cx="120.3" cy="374.7" r="3.0" fill="#ff3030"/>
<circle cx="138.0" cy="324.4" r="3.0" fill="#ff3030"/>
<circle cx="138.0" cy="346.6" r="3.0" fill="#ff3030"/>
<circle cx="173.5" cy="280.5" r="3.0" fill="#ff3030"/>
<circle cx="173.5" cy="373.0" r="3.0" fill="#ff3030"/>
<circle cx="197.2" cy="245.6" r="3.0" fill="#ff3030"/>
<circle cx="197.2" cy="328.6" r="3.0" fill="#ff3030"/>
<circle cx="197.2" cy="395.4" r="3.0" fill="#ff3030"/>
<circle cx="197.2" cy="58.8" r="3.0" fill="#ff3030"/>
<circle cx="108.5" cy="347.3" r="3.0" fill="#3434b8"/>
<circle cx="132.1" cy="337.6" r="3.0" fill="#3434b8"/>
<circle cx="161.7" cy="303.6" r="3.0" fill="#3434b8"/>
<circle cx="185.3" cy="292.3" r="3.0" fill="#3434b8"/>
<circle cx="214.9" cy="271.4" r="3.0" fill="#3434b8"/>
<circle cx="244.5" cy="252.3" r="3.0" fill="#3434b8"/>
<circle cx="297.7" cy="234.5" r="3.0" fill="#3434b8"/>
<circle cx="333.1" cy="225.7" r="3.0" fill="#3434b8"/>
<circle cx="463.2" cy="158.0" r="3.0" fill="#3434b8"/>
<circle cx="469.1" cy="157.8" r="3.0" fill="#3434b8"/>
<circle cx="480.9" cy="139.7" r="3.0" fill="#3434b8"/>
<circle cx="504.6" cy="103.5" r="3.0" fill="#3434b8"/>
<circle cx="510.5" cy="95.6" r="3.0" fill="#3434b8"/>
<circle cx="67.1" cy="394.5" r="3.0" fill="#a33434"/>
<circle cx="73.0" cy="369.7" r="3.0" fill="#a33434"/>
<circle cx="96.7" cy="354.3" r="3.0" fill="#a33434"/>
<circle cx="102.6" cy="348.0" r="3.0" fill="#a33434"/>
<circle cx="114.4" cy="346.5" r="3.0" fill="#a33434"/>
<circle cx="126.2" cy="338.0" r="3.0" fill="#a33434"/>
<circle cx="149.9" cy="316.3" r="3.0" fill="#a33434"/>
<circle cx="197.2" cy="285.2" r="3.0" fill="#a33434"/>
<circle cx="238.5" cy="265.9" r="3.0" fill="#a33434"/>
<path d="M89.1 357.5L92.3 360.7M89.1 360.7L92.3 357.5" stroke="#383838" stroke-width="1.5" fill="none"/>
<path d="M142.4 317.3L145.6 320.5M142.4 320.5L145.6 317.3" stroke="#383838" stroke-width="1.5" fill="none"/>
<path d="M154.2 312.1L157.4 315.3M154.2 315.3L157.4 312.1" stroke="#383838" stroke-width="1.5" fill="none"/>
<path d="M166.0 302.0L169.2 305.2M166.0 305.2L169.2 302.0" stroke="#383838" stroke-width="1.5" fill="none"/>
<path d="M177.8 291.3L181.0 294.5M177.8 294.5L181.0 291.3" stroke="#383838" stroke-width="1.5" fill="none"/>
<path d="M189.7 287.2L192.9 290.4M189.7 290.4L192.9 287.2" stroke="#383838" stroke-width="1.5" fill="none"/>
<path d="M201.5 278.9L204.7 282.1M201.5 282.1L204.7 278.9" stroke="#383838" stroke-width="1.5" fill="none"/>
<path d="M207.4 274.8L210.6 278.0M207.4 278.0L210.6 274.8" stroke="#383838" stroke-width="1.5" fill="none"/>
<path d="M219.2 267.6L222.4 270.8M219.2 270.8L222.4 267.6" stroke="#383838" stroke-width="1.5" fill="none"/>
<path d="M225.1 266.6L228.3 269.8M225.1 269.8L228.3 266.6" stroke="#383838" stroke-width="1.5" fill="none"/>
<path d="M231.0 266.3L234.2 269.5M231.0 269.5L234.2 266.3" stroke="#383838" stroke-width="1.5" fill="none"/>
<path d="M248.8 250.1L252.0 253.3M248.8 253.3L252.0 250.1" stroke="#383838" stroke-width="1.5" fill="none"/>
<path d="M254.7 244.4L257.9 247.6M254.7 247.6L257.9 244.4" stroke="#383838" stroke-width="1.5" fill="none"/>
<path d="M260.6 243.8L263.8 247.0M260.6 247.0L263.8 243.8" stroke="#383838" stroke-width="1.5" fill="none"/>
<path d="M266.5 243.8L269.7 247.0M266.5 247.0L269.7 243.8" stroke="#383838" stroke-width="1.5" fill="none"/>
<path d="M272.4 241.9L275.6 245.1M272.4 245.1L275.6 241.9" stroke="#383838" stroke-width="1.5" fill="none"/>
<path d="M284.2 238.6L287.4 241.8M284.2 241.8L287.4 238.6" stroke="#383838" stroke-width="1.5" fill="none"/>
<path d="M290.2 236.9L293.4 240.1M290.2 240.1L293.4 236.9" stroke="#383838" stroke-width="1.5" fill="none"/>
<path d="M302.0 228.8L305.2 232.0M302.0 232.0L305.2 228.8" stroke="#383838" stroke-width="1.5" fill="none"/>
<path d="M307.9 228.8L311.1 232.0M307.9 232.0L311.1 228.8" stroke="#383838" stroke-width="1.5" fill="none"/>
<path d="M313.8 226.2L317.0 229.4M313.8 229.4L317.0 226.2" stroke="#383838" stroke-width="1.5" fill="none"/>
<path d="M319.7 225.8L322.9 229.0M319.7 229.0L322.9 225.8" stroke="#383838" stroke-width="1.5" fill="none"/>
<path d="M325.6 224.8L328.8 228.0M325.6 228.0L328.8 224.8" stroke="#383838" stroke-width="1.5" fill="none"/>
<path d="M343.4 216.9L346.6 220.1M343.4 220.1L346.6 216.9" stroke="#383838" stroke-width="1.5" fill="none"/>
<path d="M349.3 217.1L352.5 220.3M349.3 220.3L352.5 217.1" stroke="#383838" stroke-width="1.5" fill="none"/>
<path d="M355.2 214.3L358.4 217.5M355.2 217.5L358.4 214.3" stroke="#383838" stroke-width="1.5" fill="none"/>
<path d="M361.1 214.3L364.3 217.5M361.1 217.5L364.3 214.3" stroke="#383838" stroke-width="1.5" fill="none"/>
<path d="M367.0 212.9L370.2 216.1M367.0 216.1L370.2 212.9" stroke="#383838" stroke-width="1.5" fill="none"/>
<path d="M372.9 213.3L376.1 216.5M372.9 216.5L376.1 213.3" stroke="#383838" stroke-width="1.5" fill="none"/>
<path d="M378.8 206.2L382.0 209.4M378.8 209.4L382.0 206.2" stroke="#383838" stroke-width="1.5" fill="none"/>
<path d="M384.7 201.4L387.9 204.6M384.7 204.6L387.9 201.4" stroke="#383838" stroke-width="1.5" fill="none"/>
<path d="M390.7 201.4L393.9 204.6M390.7 204.6L393.9 201.4" stroke="#383838" stroke-width="1.5" fill="none"/>
<path d="M396.6 195.2L399.8 198.4M396.6 198.4L399.8 195.2" stroke="#383838" stroke-width="1.5" fill="none"/>
<path d="M402.5 194.7L405.7 197.9M402.5 197.9L405.7 194.7" stroke="#383838" stroke-width="1.5" fill="none"/>
<path d="M408.4 192.9L411.6 196.1M408.4 196.1L411.6 192.9" stroke="#383838" stroke-width="1.5" fill="none"/>
<path d="M414.3 188.3L417.5 191.5M414.3 191.5L417.5 188.3" stroke="#383838" stroke-width="1.5" fill="none"/>
<path d="M420.2 186.6L423.4 189.8M420.2 189.8L423.4 186.6" stroke="#383838" stroke-width="1.5" fill="none"/>
<path d="M426.1 186.9L429.3 190.1M426.1 190.1L429.3 186.9" stroke="#383838" stroke-width="1.5" fill="none"/>
<path d="M432.0 179.3L435.2 182.5M432.0 182.5L435.2 179.3" stroke="#383838" stroke-width="1.5" fill="none"/>
<path d="M438.0 171.7L441.2 174.9M438.0 174.9L441.2 171.7" stroke="#383838" stroke-width="1.5" fill="none"/>
<path d="M449.8 163.8L453.0 167.0M449.8 167.0L453.0 163.8" stroke="#383838" stroke-width="1.5" fill="none"/>
<path d="M455.7 160.9L458.9 164.1M455.7 164.1L458.9 160.9" stroke="#383838" stroke-width="1.5" fill="none"/>
<path d="M473.4 154.2L476.6 157.4M473.4 157.4L476.6 154.2" stroke="#383838" stroke-width="1.5" fill="none"/>
<path d="M485.3 135.4L488.5 138.6M485.3 138.6L488.5 135.4" stroke="#383838" stroke-width="1.5" fill="none"/>
<path d="M497.1 121.4L500.3 124.6M497.1 124.6L500.3 121.4" stroke="#383838" stroke-width="1.5" fill="none"/>
<path d="M106.9 345.7L110.1 348.9M106.9 348.9L110.1 345.7" stroke="#383838" stroke-width="1.5" fill="none"/>
<path d="M130.5 336.0L133.7 339.2M130.5 339.2L133.7 336.0" stroke="#383838" stroke-width="1.5" fill="none"/>
<path d="M160.1 302.0L163.3 305.2M160.1 305.2L163.3 302.0" stroke="#383838" stroke-width="1.5" fill="none"/>
<path d="M183.7 290.7L186.9 293.9M183.7 293.9L186.9 290.7" stroke="#383838" stroke-width="1.5" fill="none"/>
<path d="M213.3 269.8L216.5 273.0M213.3 273.0L216.5 269.8" stroke="#383838" stroke-width="1.5" fill="none"/>
<path d="M242.9 250.7L246.1 253.9M242.9 253.9L246.1 250.7" stroke="#383838" stroke-width="1.5" fill="none"/>
<path d="M296.1 232.9L299.3 236.1M296.1 236.1L299.3 232.9" stroke="#383838" stroke-width="1.5" fill="none"/>
<path d="M331.5 224.1L334.7 227.3M331.5 227.3L334.7 224.1" stroke="#383838" stroke-width="1.5" fill="none"/>
<path d="M461.6 156.4L464.8 159.6M461.6 159.6L464.8 156.4" stroke="#383838" stroke-width="1.5" fill="none"/>
<path d="M467.5 156.2L470.7 159.4M467.5 159.4L470.7 156.2" stroke="#383838" stroke-width="1.5" fill="none"/>
<path d="M479.3 138.1L482.5 141.3M479.3 141.3L482.5 138.1" stroke="#383838" stroke-width="1.5" fill="none"/>
<path d="M503.0 101.9L506.2 105.1M503.0 105.1L506.2 101.9" stroke="#383838" stroke-width="1.5" fill="none"/>
<path d="M508.9 94.0L512.1 97.2M508.9 97.2L512.1 94.0" stroke="#383838" stroke-width="1.5" fill="none"/>
<path d="M65.5 392.9L68.7 396.1M65.5 396.1L68.7 392.9" stroke="#383838" stroke-width="1.5" fill="none"/>
<path d="M71.4 368.1L74.6 371.3M71.4 371.3L74.6 368.1" stroke="#383838" stroke-width="1.5" fill="none"/>
<path d="M95.1 352.7L98.3 355.9M95.1 355.9L98.3 352.7" stroke="#383838" stroke-width="1.5" fill="none"/>
<path d="M101.0 346.4L104.2 349.6M101.0 349.6L104.2 346.4" stroke="#383838" stroke-width="1.5" fill="none"/>
<path d="M112.8 344.9L116.0 348.1M112.8 348.1L116.0 344.9" stroke="#383838" stroke-width="1.5" fill="none"/>
<path d="M124.6 336.4L127.8 339.6M124.6 339.6L127.8 336.4" stroke="#383838" stroke-width="1.5" fill="none"/>
<path d="M148.3 314.7L151.5 317.9M148.3 317.9L151.5 314.7" stroke="#383838" stroke-width="1.5" fill="none"/>
<path d="M195.6 283.6L198.8 286.8M195.6 286.8L198.8 283.6" stroke="#383838" stroke-width="1.5" fill="none"/>
<path d="M236.9 264.3L240.1 267.5M236.9 267.5L240.1 264.3" stroke="#383838" stroke-width="1.5" fill="none"/>
<path d="M77.3 365.1L80.5 368.3M77.3 368.3L80.5 365.1" stroke="#383838" stroke-width="1.5" fill="none"/>
<path d="M83.2 359.4L86.4 362.6M83.2 362.6L86.4 359.4" stroke="#383838" stroke-width="1.5" fill="none"/>
<path d="M118.7 336.7L121.9 339.9M118.7 339.9L121.9 336.7" stroke="#383838" stroke-width="1.5" fill="none"/>
<path d="M136.4 332.2L139.6 335.4M136.4 335.4L139.6 332.2" stroke="#383838" stroke-width="1.5" fill="none"/>
<path d="M171.9 298.1L175.1 301.3M171.9 301.3L175.1 298.1" stroke="#383838" stroke-width="1.5" fill="none"/>
<path d="M278.3 240.0L281.5 243.2M278.3 243.2L281.5 240.0" stroke="#383838" stroke-width="1.5" fill="none"/>
<path d="M337.5 217.6L340.7 220.8M337.5 220.8L340.7 217.6" stroke="#383838" stroke-width="1.5" fill="none"/>
<path d="M443.9 169.1L447.1 172.3M443.9 172.3L447.1 169.1" stroke="#383838" stroke-width="1.5" fill="none"/>
<path d="M491.2 129.0L494.4 132.2M491.2 132.2L494.4 129.0" stroke="#383838" stroke-width="1.5" fill="none"/>
<path d="M514.8 76.2L518.0 79.4M514.8 79.4L518.0 76.2" stroke="#383838" stroke-width="1.5" fill="none"/>
<line x1="58.3" y1="44.8" x2="525.1" y2="44.8" stroke="#999" stroke-width="1.5"/>
<line x1="525.1" y1="44.8" x2="525.1" y2="407.8" stroke="#888" stroke-width="1.5"/>
<line x1="58.3" y1="407.8" x2="525.1" y2="407.8" stroke="#555" stroke-width="1.7"/>
<line x1="58.3" y1="44.099999999999994" x2="58.3" y2="408.6" stroke="#444" stroke-width="1.8"/>
<line x1="52" y1="54.20" x2="58.3" y2="54.20" stroke="#777" stroke-width="1.5"/>
<text x="0" y="0" transform="translate(40.60,55.50) rotate(-90)" font-size="15.8" text-anchor="middle" >1000</text>
<line x1="52" y1="123.10" x2="58.3" y2="123.10" stroke="#777" stroke-width="1.5"/>
<text x="0" y="0" transform="translate(40.60,124.40) rotate(-90)" font-size="15.8" text-anchor="middle" >100</text>
<line x1="52" y1="192.00" x2="58.3" y2="192.00" stroke="#777" stroke-width="1.5"/>
<text x="0" y="0" transform="translate(40.60,193.30) rotate(-90)" font-size="15.8" text-anchor="middle" >10</text>
<line x1="52" y1="260.90" x2="58.3" y2="260.90" stroke="#777" stroke-width="1.5"/>
<text x="0" y="0" transform="translate(40.60,262.20) rotate(-90)" font-size="15.8" text-anchor="middle" >1</text>
<line x1="52" y1="329.80" x2="58.3" y2="329.80" stroke="#777" stroke-width="1.5"/>
<text x="0" y="0" transform="translate(40.60,331.10) rotate(-90)" font-size="15.8" text-anchor="middle" >.1</text>
<line x1="52" y1="398.70" x2="58.3" y2="398.70" stroke="#777" stroke-width="1.5"/>
<text x="0" y="0" transform="translate(40.60,400.00) rotate(-90)" font-size="15.8" text-anchor="middle" >.01</text>
<text x="0" y="0" transform="translate(15.20,221.90) rotate(-90)" font-size="19.5" text-anchor="middle"  textLength="148.5" lengthAdjust="spacing">Gametocytes/μL</text>
<text x="291.70" y="435.70" font-size="19.5" text-anchor="middle"  textLength="287" lengthAdjust="spacing">Participants ordered by median</text>
<text x="291.85" y="459.90" font-size="19.5" text-anchor="middle"  textLength="179" lengthAdjust="spacing">gametocyte density</text>
<text x="546.00" y="29.00" font-size="41" text-anchor="start" >B</text>
<polyline points="611.3,256.3 624.0,262.0 634.9,289.0 640.5,272.9 646.8,242.8 654.5,227.4" fill="none" stroke="#ff3a3a" stroke-width="1.4" stroke-dasharray="22 4.5 1.6 4.5" stroke-dashoffset="4.5" stroke-linejoin="round" opacity="1.0"/>
<polyline points="611.3,256.3 640.0,262.0 700.0,258.0 758.3,263.5 773.5,265.3 820.0,266.0 854.6,267.3 874.9,266.8 930.0,270.0" fill="none" stroke="#ff6a6a" stroke-width="1.3" stroke-dasharray="22 4.5 1.6 4.5" stroke-dashoffset="5.6" stroke-linejoin="round" opacity="1.0"/>
<polyline points="611.3,256.3 636.7,260.7 662.1,254.0 674.8,252.2 687.5,276.2 700.2,226.1 763.7,248.4 814.5,246.0 903.4,263.9 941.5,267.9 966.9,268.5 1005.0,255.2" fill="none" stroke="#7474ff" stroke-width="1.45" stroke-dasharray="22 4.5 1.6 4.5" stroke-dashoffset="5.9" stroke-linejoin="round" opacity="1.0"/>
<polyline points="611.3,256.3 624.0,266.7 649.4,269.9 662.1,268.4 687.5,254.5 700.2,260.6 751.0,275.2 839.9,259.8 878.0,260.8 928.8,265.2 966.9,264.1 1005.0,248.0" fill="none" stroke="#7474ff" stroke-width="1.45" stroke-dasharray="22 4.5 1.6 4.5" stroke-dashoffset="7.7" stroke-linejoin="round" opacity="1.0"/>
<polyline points="611.3,256.3 636.7,287.3 649.4,260.6 674.8,287.5 687.5,266.4 700.2,268.2 725.6,258.4 751.0,274.5 839.9,266.4 903.4,263.7 928.8,272.1 966.9,269.9 1005.0,276.6 1030.4,275.7 1043.1,276.7" fill="none" stroke="#7474ff" stroke-width="1.45" stroke-dasharray="22 4.5 1.6 4.5" stroke-dashoffset="1.1" stroke-linejoin="round" opacity="1.0"/>
<polyline points="611.3,256.3 636.7,275.1 649.4,276.1 674.8,282.3 700.2,275.2 763.7,265.2 852.6,283.3 890.7,288.4 941.5,265.1 1005.0,278.3 1055.8,273.1" fill="none" stroke="#7474ff" stroke-width="1.45" stroke-dasharray="22 4.5 1.6 4.5" stroke-dashoffset="4.4" stroke-linejoin="round" opacity="1.0"/>
<polyline points="611.3,256.3 624.0,255.8 636.7,258.1 649.4,268.2 662.1,264.9 687.5,269.8 700.2,267.3 789.1,285.0 839.9,260.9 878.0,278.8 966.9,272.1 1005.0,270.7 1055.8,281.3" fill="none" stroke="#7474ff" stroke-width="1.45" stroke-dasharray="22 4.5 1.6 4.5" stroke-dashoffset="6.7" stroke-linejoin="round" opacity="1.0"/>
<polyline points="611.3,256.3 636.7,226.2 649.4,248.6 662.1,254.7 674.8,237.4 700.2,257.0 763.7,233.6 814.5,251.4 865.3,248.6 916.1,234.8 941.5,225.7 992.3,229.0 1017.7,231.2 1043.1,249.1 1055.8,240.3" fill="none" stroke="#7474ff" stroke-width="1.45" stroke-dasharray="22 4.5 1.6 4.5" stroke-dashoffset="5.5" stroke-linejoin="round" opacity="1.0"/>
<polyline points="611.3,256.3 624.0,269.8 636.7,268.2 649.4,287.8 662.1,261.2 687.5,307.1 700.2,282.3 725.6,294.3 751.0,289.9 789.1,288.0 827.2,279.2 865.3,281.7 916.1,280.3 966.9,286.7 1005.0,287.6 1030.4,279.3 1055.8,283.1" fill="none" stroke="#7474ff" stroke-width="1.45" stroke-dasharray="22 4.5 1.6 4.5" stroke-dashoffset="2.6" stroke-linejoin="round" opacity="1.0"/>
<polyline points="611.3,256.3 636.7,286.3 662.1,257.3 674.8,257.6 687.5,279.7 700.2,276.2 738.3,272.6 763.7,276.7 827.2,272.5 878.0,254.6 903.4,257.9 992.3,245.9 1030.4,264.0" fill="none" stroke="#7474ff" stroke-width="1.45" stroke-dasharray="22 4.5 1.6 4.5" stroke-dashoffset="7.2" stroke-linejoin="round" opacity="1.0"/>
<polyline points="611.3,256.3 636.7,283.6 662.1,280.7 687.5,270.3 700.2,254.1 725.6,281.9 776.4,274.3 865.3,271.7 916.1,283.1 941.5,274.5 966.9,281.8" fill="none" stroke="#7474ff" stroke-width="1.45" stroke-dasharray="22 4.5 1.6 4.5" stroke-dashoffset="7.2" stroke-linejoin="round" opacity="1.0"/>
<polyline points="611.3,256.3 624.0,265.3 636.7,299.5 662.1,265.8 687.5,282.5 700.2,283.5 751.0,278.5 814.5,269.2 852.6,268.4 890.7,268.4 954.2,294.4 1005.0,289.0 1030.4,305.3" fill="none" stroke="#7474ff" stroke-width="1.45" stroke-dasharray="22 4.5 1.6 4.5" stroke-dashoffset="2.6" stroke-linejoin="round" opacity="1.0"/>
<polyline points="611.3,256.3 636.7,263.0 662.1,286.3 674.8,281.8 687.5,251.8 700.2,275.1 763.7,257.2 814.5,270.2 865.3,274.3 928.8,275.4 966.9,256.8 1030.4,276.4 1043.1,271.4" fill="none" stroke="#7474ff" stroke-width="1.45" stroke-dasharray="22 4.5 1.6 4.5" stroke-dashoffset="5.4" stroke-linejoin="round" opacity="1.0"/>
<polyline points="611.3,256.3 624.0,259.8 636.7,282.1 649.4,273.1 662.1,264.4 674.8,276.6 700.2,275.8 763.7,288.7 814.5,273.3 878.0,271.0 941.5,267.2 1030.4,280.9 1055.8,262.9" fill="none" stroke="#7474ff" stroke-width="1.45" stroke-dasharray="22 4.5 1.6 4.5" stroke-dashoffset="8.5" stroke-linejoin="round" opacity="1.0"/>
<polyline points="611.3,256.3 624.0,279.2 649.4,263.7 662.1,272.2 674.8,286.7 700.2,295.5 751.0,295.3 789.1,283.7 839.9,294.4 878.0,300.4" fill="none" stroke="#7474ff" stroke-width="1.45" stroke-dasharray="22 4.5 1.6 4.5" stroke-dashoffset="6.0" stroke-linejoin="round" opacity="1.0"/>
<polyline points="611.3,256.3 624.0,226.7 636.7,226.5 649.4,239.3 674.8,230.0 687.5,238.1 700.2,249.2 789.1,231.5 827.2,225.8 865.3,232.0 928.8,222.9 966.9,230.8" fill="none" stroke="#7474ff" stroke-width="1.45" stroke-dasharray="22 4.5 1.6 4.5" stroke-dashoffset="2.6" stroke-linejoin="round" opacity="1.0"/>
<polyline points="611.3,256.3 624.0,253.9 649.4,242.0 662.1,261.3 687.5,237.7 700.2,265.9 763.7,263.4 814.5,248.4 865.3,263.0 916.1,258.2 979.6,246.2 1005.0,242.3 1055.8,268.8" fill="none" stroke="#7474ff" stroke-width="1.45" stroke-dasharray="22 4.5 1.6 4.5" stroke-dashoffset="2.0" stroke-linejoin="round" opacity="1.0"/>
<polyline points="611.3,256.3 636.7,233.6 662.1,259.4 674.8,277.0 700.2,266.1 738.3,256.8 789.1,267.6 839.9,268.6 865.3,252.7 916.1,238.8 941.5,241.7 992.3,262.9 1005.0,233.3" fill="none" stroke="#7474ff" stroke-width="1.45" stroke-dasharray="22 4.5 1.6 4.5" stroke-dashoffset="9.7" stroke-linejoin="round" opacity="1.0"/>
<polyline points="611.3,256.3 636.7,248.2 662.1,247.3 674.8,254.7 687.5,261.4 700.2,259.9 751.0,247.4 789.1,264.3 814.5,255.3 852.6,266.0 903.4,268.1 954.2,267.1 979.6,271.6 1005.0,274.9" fill="none" stroke="#7474ff" stroke-width="1.45" stroke-dasharray="22 4.5 1.6 4.5" stroke-dashoffset="0.5" stroke-linejoin="round" opacity="1.0"/>
<polyline points="611.3,256.3 636.7,257.6 649.4,283.2 674.8,284.1 700.2,294.6 751.0,274.5 789.1,282.6 839.9,281.2 878.0,267.8 966.9,253.0" fill="none" stroke="#7474ff" stroke-width="1.45" stroke-dasharray="22 4.5 1.6 4.5" stroke-dashoffset="4.5" stroke-linejoin="round" opacity="1.0"/>
<polyline points="611.3,256.3 624.0,255.1 649.4,272.2 662.1,259.8 674.8,267.4 687.5,276.3 700.2,250.8 738.3,255.0 776.4,263.8 814.5,276.6 878.0,293.0 903.4,274.2 941.5,280.7 992.3,299.7 1017.7,289.1 1055.8,304.3" fill="none" stroke="#7474ff" stroke-width="1.45" stroke-dasharray="22 4.5 1.6 4.5" stroke-dashoffset="8.8" stroke-linejoin="round" opacity="1.0"/>
<polyline points="611.3,256.3 624.0,267.0 636.7,268.0 649.4,265.0 674.8,275.0 700.2,253.7 751.0,271.6 801.8,271.7 839.9,271.1 878.0,273.0 916.1,262.8 941.5,264.1 966.9,277.0" fill="none" stroke="#7474ff" stroke-width="1.45" stroke-dasharray="22 4.5 1.6 4.5" stroke-dashoffset="3.3" stroke-linejoin="round" opacity="1.0"/>
<polyline points="611.3,256.3 624.0,254.7 636.7,263.1 649.4,276.2 674.8,246.1 700.2,254.2 763.7,248.5 801.8,275.8 852.6,253.9 890.7,267.0 941.5,259.7 979.6,252.2 1005.0,270.9 1030.4,251.7" fill="none" stroke="#7474ff" stroke-width="1.45" stroke-dasharray="22 4.5 1.6 4.5" stroke-dashoffset="6.1" stroke-linejoin="round" opacity="1.0"/>
<polyline points="611.3,256.3 624.0,270.9 649.4,284.2 662.1,272.8 674.8,276.6 700.2,279.4 738.3,261.6 827.2,259.3 878.0,266.5" fill="none" stroke="#7474ff" stroke-width="1.45" stroke-dasharray="22 4.5 1.6 4.5" stroke-dashoffset="6.1" stroke-linejoin="round" opacity="1.0"/>
<polyline points="611.3,256.3 624.0,287.9 636.7,301.1 649.4,279.2 662.1,282.1 674.8,296.5 700.2,294.8 738.3,282.9 789.1,274.6 814.5,278.5 865.3,285.1 916.1,293.0 966.9,290.4 1030.4,296.2 1068.5,278.9" fill="none" stroke="#7474ff" stroke-width="1.45" stroke-dasharray="22 4.5 1.6 4.5" stroke-dashoffset="8.1" stroke-linejoin="round" opacity="1.0"/>
<polyline points="611.3,256.3 636.7,278.1 662.1,287.5 674.8,291.7 700.2,283.2 725.6,295.0 776.4,284.6 827.2,264.8 890.7,276.8 979.6,297.5 1005.0,285.2 1055.8,297.5" fill="none" stroke="#7474ff" stroke-width="1.45" stroke-dasharray="22 4.5 1.6 4.5" stroke-dashoffset="5.0" stroke-linejoin="round" opacity="1.0"/>
<polyline points="611.3,256.3 636.7,260.5 649.4,267.7 662.1,274.1 674.8,290.2 687.5,268.0 700.2,279.3 725.6,283.7 789.1,275.8 827.2,283.8 878.0,280.9 966.9,288.0 1030.4,283.2 1068.5,286.4" fill="none" stroke="#7474ff" stroke-width="1.45" stroke-dasharray="22 4.5 1.6 4.5" stroke-dashoffset="7.2" stroke-linejoin="round" opacity="1.0"/>
<polyline points="611.3,256.3 636.7,259.2 649.4,254.2 662.1,269.8 687.5,246.8 700.2,262.1 751.0,248.3 801.8,255.6 852.6,251.4 878.0,243.7 916.1,254.8 1005.0,222.9 1030.4,239.0 1055.8,240.2" fill="none" stroke="#7474ff" stroke-width="1.45" stroke-dasharray="22 4.5 1.6 4.5" stroke-dashoffset="8.6" stroke-linejoin="round" opacity="1.0"/>
<polyline points="611.3,256.3 636.7,263.1 662.1,281.3 674.8,271.0 687.5,266.2 700.2,284.0 763.7,278.2 827.2,276.2 878.0,273.9 941.5,277.1 992.3,256.6 1030.4,259.3 1068.5,255.7" fill="none" stroke="#7474ff" stroke-width="1.45" stroke-dasharray="22 4.5 1.6 4.5" stroke-dashoffset="0.3" stroke-linejoin="round" opacity="1.0"/>
<polyline points="611.3,256.3 624.0,260.8 636.7,267.9 662.1,274.4 674.8,254.4 687.5,255.4 700.2,285.0 738.3,280.4 776.4,267.2 814.5,259.0 852.6,268.5 903.4,252.5 966.9,276.5 1005.0,260.6" fill="none" stroke="#7474ff" stroke-width="1.45" stroke-dasharray="22 4.5 1.6 4.5" stroke-dashoffset="1.1" stroke-linejoin="round" opacity="1.0"/>
<polyline points="611.3,256.3 636.7,255.0 649.4,272.6 674.8,259.6 687.5,261.8 700.2,270.0 751.0,241.1 789.1,268.1 814.5,268.5 865.3,276.1 890.7,261.3 941.5,269.7 992.3,246.0 1043.1,258.1 1055.8,249.1" fill="none" stroke="#7474ff" stroke-width="1.45" stroke-dasharray="22 4.5 1.6 4.5" stroke-dashoffset="1.8" stroke-linejoin="round" opacity="1.0"/>
<polyline points="611.3,256.3 624.0,277.4 649.4,252.1 674.8,284.9 700.2,297.5 738.3,265.3 789.1,265.2 839.9,257.4 928.8,262.8 966.9,277.0 1017.7,269.8 1055.8,259.3" fill="none" stroke="#7474ff" stroke-width="1.45" stroke-dasharray="22 4.5 1.6 4.5" stroke-dashoffset="6.4" stroke-linejoin="round" opacity="1.0"/>
<polyline points="611.3,256.3 636.7,278.0 662.1,275.8 674.8,279.9 687.5,283.1 700.2,280.0 789.1,276.9 827.2,290.7 916.1,293.2 941.5,291.2 979.6,296.0 1005.0,291.6" fill="none" stroke="#7474ff" stroke-width="1.45" stroke-dasharray="22 4.5 1.6 4.5" stroke-dashoffset="5.8" stroke-linejoin="round" opacity="1.0"/>
<polyline points="611.3,256.3 624.0,282.6 636.7,268.9 649.4,268.0 662.1,281.9 674.8,262.7 700.2,261.3 763.7,266.7 801.8,271.5 852.6,270.4 941.5,269.6 992.3,266.1 1030.4,292.9 1055.8,269.7" fill="none" stroke="#7474ff" stroke-width="1.45" stroke-dasharray="22 4.5 1.6 4.5" stroke-dashoffset="7.2" stroke-linejoin="round" opacity="1.0"/>
<polyline points="611.3,256.3 636.7,266.5 662.1,269.9 674.8,262.9 700.2,282.1 763.7,280.5 789.1,274.5 878.0,263.8 903.4,278.4 954.2,275.2 1005.0,267.0 1030.4,281.0" fill="none" stroke="#7474ff" stroke-width="1.45" stroke-dasharray="22 4.5 1.6 4.5" stroke-dashoffset="6.2" stroke-linejoin="round" opacity="1.0"/>
<polyline points="611.3,256.3 624.0,286.0 636.7,280.7 649.4,286.3 674.8,269.7 687.5,296.0 700.2,263.1 789.1,288.6 814.5,264.6 852.6,263.4 878.0,280.9 916.1,268.6 954.2,283.7 992.3,276.3 1005.0,290.7" fill="none" stroke="#7474ff" stroke-width="1.45" stroke-dasharray="22 4.5 1.6 4.5" stroke-dashoffset="0.5" stroke-linejoin="round" opacity="1.0"/>
<polyline points="611.3,256.3 636.7,289.7 649.4,315.4 674.8,294.5 687.5,299.5 700.2,273.0 738.3,298.0 776.4,276.5 865.3,298.4 954.2,289.5 1005.0,278.0 1055.8,293.0" fill="none" stroke="#7474ff" stroke-width="1.45" stroke-dasharray="22 4.5 1.6 4.5" stroke-dashoffset="4.3" stroke-linejoin="round" opacity="1.0"/>
<polyline points="611.3,256.3 624.0,248.9 636.7,251.8 662.1,233.7 674.8,255.6 700.2,254.3 751.0,267.0 801.8,254.1 827.2,283.0 865.3,273.0 916.1,273.1 1005.0,281.0 1043.1,280.7 1055.8,292.7" fill="none" stroke="#7474ff" stroke-width="1.45" stroke-dasharray="22 4.5 1.6 4.5" stroke-dashoffset="7.0" stroke-linejoin="round" opacity="1.0"/>
<polyline points="611.3,256.3 624.0,263.1 649.4,275.6 662.1,286.0 674.8,264.7 700.2,255.5 725.6,269.6 776.4,268.1 827.2,270.2 878.0,263.9 928.8,262.0 966.9,279.2 1055.8,288.5" fill="none" stroke="#7474ff" stroke-width="1.45" stroke-dasharray="22 4.5 1.6 4.5" stroke-dashoffset="8.2" stroke-linejoin="round" opacity="1.0"/>
<polyline points="611.3,256.3 636.7,248.1 649.4,270.8 674.8,265.2 700.2,253.6 738.3,268.9 789.1,261.2 814.5,276.9 865.3,274.4 954.2,279.5 979.6,268.3 1055.8,280.4" fill="none" stroke="#7474ff" stroke-width="1.45" stroke-dasharray="22 4.5 1.6 4.5" stroke-dashoffset="7.4" stroke-linejoin="round" opacity="1.0"/>
<polyline points="611.3,256.3 624.0,260.4 636.7,283.1 649.4,275.2 674.8,283.5 700.2,283.4 763.7,280.4 801.8,280.0 852.6,274.6 878.0,272.5" fill="none" stroke="#7474ff" stroke-width="1.45" stroke-dasharray="22 4.5 1.6 4.5" stroke-dashoffset="7.8" stroke-linejoin="round" opacity="1.0"/>
<polyline points="611.3,256.3 624.0,283.9 636.7,282.9 649.4,278.2 662.1,274.4 674.8,316.1 700.2,286.2 789.1,296.6 814.5,297.4 852.6,293.2 941.5,291.7 992.3,284.7 1043.1,292.0" fill="none" stroke="#7474ff" stroke-width="1.45" stroke-dasharray="22 4.5 1.6 4.5" stroke-dashoffset="7.7" stroke-linejoin="round" opacity="1.0"/>
<polyline points="611.3,256.3 624.0,248.7 636.7,270.9 649.4,245.1 662.1,239.1 674.8,243.8 700.2,264.9 751.0,261.8 801.8,247.3 839.9,246.0 890.7,244.4 928.8,245.1 1017.7,258.1 1055.8,262.7" fill="none" stroke="#7474ff" stroke-width="1.45" stroke-dasharray="22 4.5 1.6 4.5" stroke-dashoffset="5.0" stroke-linejoin="round" opacity="1.0"/>
<polyline points="611.3,256.3 624.0,265.9 636.7,283.4 649.4,302.1 662.1,294.3 687.5,302.0 700.2,306.9 763.7,295.8 801.8,270.9 839.9,278.3 865.3,279.1 954.2,271.9 992.3,277.0 1030.4,288.3 1043.1,271.5" fill="none" stroke="#7474ff" stroke-width="1.45" stroke-dasharray="22 4.5 1.6 4.5" stroke-dashoffset="6.5" stroke-linejoin="round" opacity="1.0"/>
<polyline points="611.3,256.3 624.0,248.3 636.7,222.9 662.1,251.1 674.8,254.4 687.5,257.4 700.2,258.1 751.0,258.0 839.9,250.0 865.3,231.1 916.1,234.6 941.5,235.9 992.3,229.1 1030.4,222.9 1068.5,222.9" fill="none" stroke="#7474ff" stroke-width="1.45" stroke-dasharray="22 4.5 1.6 4.5" stroke-dashoffset="5.1" stroke-linejoin="round" opacity="1.0"/>
<polyline points="611.3,256.3 636.7,264.8 649.4,258.8 662.1,273.5 674.8,267.2 700.2,261.6 725.6,270.8 789.1,247.0 878.0,253.2 903.4,270.5 966.9,274.2 1030.4,266.4" fill="none" stroke="#7474ff" stroke-width="1.45" stroke-dasharray="22 4.5 1.6 4.5" stroke-dashoffset="3.8" stroke-linejoin="round" opacity="1.0"/>
<polyline points="611.3,256.3 636.7,252.3 662.1,266.2 674.8,270.2 700.2,269.2 751.0,266.6 789.1,256.4 839.9,258.2 890.7,282.8 941.5,264.2 992.3,273.7 1017.7,267.1 1055.8,277.1" fill="none" stroke="#7474ff" stroke-width="1.45" stroke-dasharray="22 4.5 1.6 4.5" stroke-dashoffset="2.5" stroke-linejoin="round" opacity="1.0"/>
<polyline points="611.3,256.3 636.7,258.7 649.4,237.4 674.8,255.1 687.5,251.3 700.2,255.9 763.7,259.4 814.5,253.6 852.6,256.1 878.0,265.4 941.5,267.2 1030.4,265.0 1055.8,283.5" fill="none" stroke="#7474ff" stroke-width="1.45" stroke-dasharray="22 4.5 1.6 4.5" stroke-dashoffset="5.0" stroke-linejoin="round" opacity="1.0"/>
<polyline points="611.3,256.3 624.0,283.7 636.7,282.5 649.4,255.4 662.1,275.6 674.8,285.6 700.2,267.4 789.1,254.3 839.9,285.7 890.7,285.0 928.8,277.9 966.9,284.0 1005.0,259.4" fill="none" stroke="#7474ff" stroke-width="1.45" stroke-dasharray="22 4.5 1.6 4.5" stroke-dashoffset="6.6" stroke-linejoin="round" opacity="1.0"/>
<polyline points="611.3,256.3 624.0,252.0 649.4,292.5 662.1,266.5 674.8,252.2 700.2,256.8 751.0,268.3 814.5,250.3 852.6,268.7 890.7,272.0 916.1,265.4 979.6,266.1 1005.0,273.3 1043.1,274.0 1055.8,278.4" fill="none" stroke="#7474ff" stroke-width="1.45" stroke-dasharray="22 4.5 1.6 4.5" stroke-dashoffset="6.0" stroke-linejoin="round" opacity="1.0"/>
<polyline points="611.3,256.3 624.0,276.9 636.7,277.6 649.4,260.7 674.8,275.0 687.5,288.1 700.2,276.2 738.3,261.7 776.4,270.5 814.5,278.2 878.0,274.1 916.1,281.0 954.2,288.6 966.9,289.7" fill="none" stroke="#7474ff" stroke-width="1.45" stroke-dasharray="22 4.5 1.6 4.5" stroke-dashoffset="4.5" stroke-linejoin="round" opacity="1.0"/>
<polyline points="611.3,256.3 636.7,241.6 649.4,232.1 662.1,243.1 674.8,242.4 687.5,256.9 700.2,254.3 789.1,249.8 839.9,254.4 890.7,234.7 916.1,266.3 966.9,272.2 992.3,254.1 1005.0,263.1" fill="none" stroke="#7474ff" stroke-width="1.45" stroke-dasharray="22 4.5 1.6 4.5" stroke-dashoffset="3.2" stroke-linejoin="round" opacity="1.0"/>
<circle cx="687.6" cy="282.7" r="3.4" fill="#000"/>
<circle cx="699.3" cy="280.4" r="3.4" fill="#000"/>
<circle cx="713.5" cy="269.8" r="3.4" fill="#000"/>
<circle cx="750.3" cy="278.4" r="3.4" fill="#000"/>
<circle cx="890.0" cy="293.5" r="3.4" fill="#000"/>
<circle cx="928.1" cy="263.4" r="3.4" fill="#000"/>
<circle cx="1029.8" cy="262.8" r="3.4" fill="#000"/>
<polyline points="611.3,256.3 620.0,300.0 636.8,318.5 649.7,325.7 653.5,333.0 659.9,342.6 677.0,345.4 685.6,341.2 700.0,329.0 714.0,328.8 724.0,329.2" fill="none" stroke="#7474ff" stroke-width="1.45" stroke-dasharray="22 4.5 1.6 4.5" stroke-dashoffset="4.7" stroke-linejoin="round" opacity="1.0"/>
<polyline points="611.3,256.3 616.0,292.0 621.0,314.0 627.0,305.5 651.3,309.8 674.2,306.9 701.0,298.5 712.0,290.0" fill="none" stroke="#7474ff" stroke-width="1.45" stroke-dasharray="22 4.5 1.6 4.5" stroke-dashoffset="7.0" stroke-linejoin="round" opacity="1.0"/>
<polyline points="611.3,256.3 617.0,300.0 624.0,327.0 630.4,322.1 649.7,333.5" fill="none" stroke="#7474ff" stroke-width="1.45" stroke-dasharray="22 4.5 1.6 4.5" stroke-dashoffset="7.0" stroke-linejoin="round" opacity="1.0"/>
<polyline points="611.3,256.3 615.0,290.0 619.0,322.0 626.8,307.1 651.8,310.0 673.9,307.1 686.8,322.1 699.8,316.9 771.1,299.8 800.0,285.0" fill="none" stroke="#7474ff" stroke-width="1.45" stroke-dasharray="22 4.5 1.6 4.5" stroke-dashoffset="9.6" stroke-linejoin="round" opacity="1.0"/>
<polyline points="611.3,256.3 622.0,262.0 636.0,240.0 695.5,237.0 699.8,208.5 788.2,207.1 799.7,214.2 885.2,227.1 979.3,222.8 1054.9,222.8" fill="none" stroke="#7474ff" stroke-width="1.45" stroke-dasharray="22 4.5 1.6 4.5" stroke-dashoffset="1.3" stroke-linejoin="round" opacity="1.0"/>
<polyline points="611.3,256.3 625.0,250.0 642.0,231.0 652.0,240.0 699.8,231.3 758.0,228.0 799.7,228.5 840.0,236.0 900.0,238.0 960.0,232.0 1000.0,236.0 1054.9,231.0" fill="none" stroke="#7474ff" stroke-width="1.45" stroke-dasharray="22 4.5 1.6 4.5" stroke-dashoffset="7.6" stroke-linejoin="round" opacity="1.0"/>
<polyline points="611.3,256.3 624.0,262.0 635.0,300.0 662.0,290.0 686.0,322.0 714.1,328.3 785.4,331.2 831.0,299.8 848.1,302.6 900.0,310.0 970.8,328.3 1067.8,328.3" fill="none" stroke="#7474ff" stroke-width="1.45" stroke-dasharray="22 4.5 1.6 4.5" stroke-dashoffset="6.0" stroke-linejoin="round" opacity="1.0"/>
<polyline points="611.3,256.3 628.8,235.0 634.5,213.1 637.4,210.2 642.2,231.2 660.0,250.0 700.0,262.0" fill="none" stroke="#7474ff" stroke-width="1.45" stroke-dasharray="22 4.5 1.6 4.5" stroke-dashoffset="1.3" stroke-linejoin="round" opacity="1.0"/>
<polyline points="611.3,256.3 624.0,290.0 650.0,300.0 700.0,305.0 760.0,312.0 820.0,318.0 880.0,312.0 940.0,318.0 1000.0,322.0 1055.0,322.0" fill="none" stroke="#7474ff" stroke-width="1.45" stroke-dasharray="22 4.5 1.6 4.5" stroke-dashoffset="7.4" stroke-linejoin="round" opacity="1.0"/>
<polyline points="611.3,256.3 624.0,275.0 650.0,290.0 700.0,300.0 760.0,292.0 830.0,303.0 900.0,300.0 960.0,312.0 1010.0,315.0 1055.0,318.0" fill="none" stroke="#7474ff" stroke-width="1.45" stroke-dasharray="22 4.5 1.6 4.5" stroke-dashoffset="5.2" stroke-linejoin="round" opacity="1.0"/>
<polyline points="611.3,256.3 624.0,245.0 660.0,238.0 712.0,238.0 760.0,240.0 820.0,242.0 880.0,238.0 940.0,236.0 1000.0,232.0 1067.8,240.0" fill="none" stroke="#7474ff" stroke-width="1.45" stroke-dasharray="22 4.5 1.6 4.5" stroke-dashoffset="9.9" stroke-linejoin="round" opacity="1.0"/>
<polyline points="611.3,256.3 624.0,250.0 637.4,232.1 648.8,225.4 654.5,231.6 662.1,239.7 670.7,219.7 680.0,221.6 713.0,202.0 729.5,195.9 737.8,193.7" fill="none" stroke="#3a3aff" stroke-width="1.3" stroke-dasharray="22 4.5 1.6 4.5" stroke-dashoffset="0.0" stroke-linejoin="round" opacity="1.0"/>
<polyline points="611.3,256.3 615.0,290.0 620.0,326.0 622.6,348.5 628.3,354.2 636.2,350.6" fill="none" stroke="#3a3aff" stroke-width="1.3" stroke-dasharray="22 4.5 1.6 4.5" stroke-dashoffset="4.1" stroke-linejoin="round" opacity="1.0"/>
<polyline points="611.3,256.3 624.0,268.0 650.0,275.0 675.0,270.0 687.6,282.7" fill="none" stroke="#3a3aff" stroke-width="1.3" stroke-dasharray="22 4.5 1.6 4.5" stroke-dashoffset="5.3" stroke-linejoin="round" opacity="1.0"/>
<polyline points="611.3,256.3 624.0,262.0 640.0,272.0 660.0,268.0 699.3,280.4" fill="none" stroke="#3a3aff" stroke-width="1.3" stroke-dasharray="22 4.5 1.6 4.5" stroke-dashoffset="0.9" stroke-linejoin="round" opacity="1.0"/>
<polyline points="611.3,256.3 624.0,258.0 650.0,250.0 690.0,262.0 713.5,269.8" fill="none" stroke="#3a3aff" stroke-width="1.3" stroke-dasharray="22 4.5 1.6 4.5" stroke-dashoffset="5.6" stroke-linejoin="round" opacity="1.0"/>
<polyline points="611.3,256.3 624.0,270.0 660.0,275.0 720.0,270.0 750.3,278.4" fill="none" stroke="#3a3aff" stroke-width="1.3" stroke-dasharray="22 4.5 1.6 4.5" stroke-dashoffset="4.7" stroke-linejoin="round" opacity="1.0"/>
<polyline points="611.3,256.3 624.0,280.0 700.0,275.0 780.0,285.0 840.0,300.0 860.0,292.0 890.0,293.5" fill="none" stroke="#3a3aff" stroke-width="1.3" stroke-dasharray="22 4.5 1.6 4.5" stroke-dashoffset="9.4" stroke-linejoin="round" opacity="1.0"/>
<polyline points="611.3,256.3 624.0,265.0 700.0,270.0 800.0,280.0 860.0,285.0 880.0,306.6 956.0,268.6 1029.8,262.7" fill="none" stroke="#3a3aff" stroke-width="1.3" stroke-dasharray="22 4.5 1.6 4.5" stroke-dashoffset="9.7" stroke-linejoin="round" opacity="1.0"/>
<polyline points="611.3,256.3 624.0,255.0 700.0,258.0 800.0,262.0 880.0,270.0 928.0,263.3" fill="none" stroke="#3a3aff" stroke-width="1.3" stroke-dasharray="22 4.5 1.6 4.5" stroke-dashoffset="6.8" stroke-linejoin="round" opacity="1.0"/>
<polyline points="611.3,256.3 630.0,290.0 649.7,333.5" fill="none" stroke="#3a3aff" stroke-width="1.3" stroke-dasharray="22 4.5 1.6 4.5" stroke-dashoffset="7.2" stroke-linejoin="round" opacity="1.0"/>
<polyline points="611.3,256.3 622.5,234.5 637.3,232.5 654.7,218.2 750.5,125.2" fill="none" stroke="#ff3a3a" stroke-width="1.5" stroke-dasharray="22 4.5 1.6 4.5" stroke-dashoffset="9.8" stroke-linejoin="round" opacity="1.0"/>
<polyline points="654.5,227.4 667.4,210.3 674.2,210.0" fill="none" stroke="#ff3a3a" stroke-width="1.5" stroke-dasharray="22 4.5 1.6 4.5" stroke-dashoffset="6.1" stroke-linejoin="round" opacity="1.0"/>
<circle cx="610.2" cy="255.6" r="3.7" fill="#000"/>
<circle cx="636.4" cy="350.6" r="3.7" fill="#000"/>
<circle cx="674.4" cy="210.1" r="3.7" fill="#000"/>
<circle cx="737.8" cy="193.9" r="3.7" fill="#000"/>
<rect x="602.1" y="46.7" width="474.80000000000007" height="343.90000000000003" fill="none" stroke="#444" stroke-width="1.8"/>
<line x1="596" y1="56.10" x2="602.1" y2="56.10" stroke="#777" stroke-width="1.5"/>
<text x="0" y="0" transform="translate(585.20,57.60) rotate(-90)" font-size="15.3" text-anchor="middle" >10<tspan dy="-5.5" font-size="10.5">6</tspan></text>
<line x1="596" y1="122.82" x2="602.1" y2="122.82" stroke="#777" stroke-width="1.5"/>
<text x="0" y="0" transform="translate(585.20,124.32) rotate(-90)" font-size="15.3" text-anchor="middle" >10<tspan dy="-5.5" font-size="10.5">4</tspan></text>
<line x1="596" y1="189.54" x2="602.1" y2="189.54" stroke="#777" stroke-width="1.5"/>
<text x="0" y="0" transform="translate(585.20,191.04) rotate(-90)" font-size="15.3" text-anchor="middle" >100</text>
<line x1="596" y1="256.26" x2="602.1" y2="256.26" stroke="#777" stroke-width="1.5"/>
<text x="0" y="0" transform="translate(585.20,257.76) rotate(-90)" font-size="15.3" text-anchor="middle" >1</text>
<line x1="596" y1="322.98" x2="602.1" y2="322.98" stroke="#777" stroke-width="1.5"/>
<text x="0" y="0" transform="translate(585.20,324.48) rotate(-90)" font-size="15.3" text-anchor="middle" >.01</text>
<line x1="596" y1="389.70" x2="602.1" y2="389.70" stroke="#777" stroke-width="1.5"/>
<text x="0" y="0" transform="translate(585.20,391.20) rotate(-90)" font-size="15.3" text-anchor="middle" >10<tspan dy="-5.5" font-size="10.5" letter-spacing="-0.6">-4</tspan></text>
<line x1="611.30" y1="390.6" x2="611.30" y2="397.3" stroke="#555" stroke-width="1.5"/>
<text x="611.30" y="421.50" font-size="15.7" text-anchor="middle" >0</text>
<line x1="700.20" y1="390.6" x2="700.20" y2="397.3" stroke="#555" stroke-width="1.5"/>
<text x="700.20" y="421.50" font-size="15.7" text-anchor="middle" >7</text>
<line x1="789.10" y1="390.6" x2="789.10" y2="397.3" stroke="#555" stroke-width="1.5"/>
<text x="789.10" y="421.50" font-size="15.7" text-anchor="middle" >14</text>
<line x1="878.00" y1="390.6" x2="878.00" y2="397.3" stroke="#555" stroke-width="1.5"/>
<text x="878.00" y="421.50" font-size="15.7" text-anchor="middle" >21</text>
<line x1="966.90" y1="390.6" x2="966.90" y2="397.3" stroke="#555" stroke-width="1.5"/>
<text x="966.90" y="421.50" font-size="15.7" text-anchor="middle" >28</text>
<line x1="1055.80" y1="390.6" x2="1055.80" y2="397.3" stroke="#555" stroke-width="1.5"/>
<text x="1055.80" y="421.50" font-size="15.7" text-anchor="middle" >35</text>
<text x="0" y="0" transform="translate(562.50,224.05) rotate(-90)" font-size="19.5" text-anchor="middle"  textLength="272" lengthAdjust="spacing">Relative total parasite density</text>
<text x="838.05" y="449.80" font-size="19.5" text-anchor="middle"  textLength="303" lengthAdjust="spacing">Days since gametocyte detection</text>
<text x="1102.50" y="29.70" font-size="41" text-anchor="start" >C</text>
<circle cx="1339.7" cy="235.5" r="4.05" fill="none" stroke="#8080f6" stroke-width="2.15"/>
<circle cx="1409.0" cy="233.6" r="4.05" fill="none" stroke="#8080f6" stroke-width="2.15"/>
<circle cx="1417.2" cy="183.9" r="4.05" fill="none" stroke="#8080f6" stroke-width="2.15"/>
<circle cx="1448.4" cy="190.1" r="4.05" fill="none" stroke="#8080f6" stroke-width="2.15"/>
<circle cx="1465.1" cy="164.2" r="4.05" fill="none" stroke="#8080f6" stroke-width="2.15"/>
<circle cx="1473.7" cy="154.4" r="4.05" fill="none" stroke="#8080f6" stroke-width="2.15"/>
<circle cx="1511.4" cy="173.4" r="4.05" fill="none" stroke="#8080f6" stroke-width="2.15"/>
<circle cx="1516.2" cy="172.5" r="4.05" fill="none" stroke="#8080f6" stroke-width="2.15"/>
<circle cx="1511.4" cy="184.6" r="4.05" fill="none" stroke="#8080f6" stroke-width="2.15"/>
<circle cx="1541.3" cy="149.4" r="4.05" fill="none" stroke="#8080f6" stroke-width="2.15"/>
<circle cx="1540.6" cy="157.3" r="4.05" fill="none" stroke="#8080f6" stroke-width="2.15"/>
<circle cx="1538.1" cy="178.2" r="4.05" fill="none" stroke="#8080f6" stroke-width="2.15"/>
<circle cx="1561.0" cy="176.7" r="4.05" fill="none" stroke="#8080f6" stroke-width="2.15"/>
<circle cx="1532.8" cy="199.0" r="4.05" fill="none" stroke="#8080f6" stroke-width="2.15"/>
<circle cx="1548.6" cy="193.6" r="4.05" fill="none" stroke="#8080f6" stroke-width="2.15"/>
<circle cx="1567.9" cy="189.0" r="4.05" fill="none" stroke="#8080f6" stroke-width="2.15"/>
<circle cx="1574.6" cy="199.5" r="4.05" fill="none" stroke="#8080f6" stroke-width="2.15"/>
<circle cx="1531.0" cy="204.5" r="4.05" fill="none" stroke="#8080f6" stroke-width="2.15"/>
<circle cx="1579.9" cy="209.3" r="4.05" fill="none" stroke="#8080f6" stroke-width="2.15"/>
<circle cx="1571.4" cy="213.5" r="4.05" fill="none" stroke="#8080f6" stroke-width="2.15"/>
<circle cx="1564.4" cy="216.6" r="4.05" fill="none" stroke="#8080f6" stroke-width="2.15"/>
<circle cx="1563.9" cy="223.4" r="4.05" fill="none" stroke="#8080f6" stroke-width="2.15"/>
<circle cx="1570.1" cy="231.2" r="4.05" fill="none" stroke="#8080f6" stroke-width="2.15"/>
<circle cx="1491.3" cy="213.3" r="4.05" fill="none" stroke="#8080f6" stroke-width="2.15"/>
<circle cx="1494.9" cy="215.2" r="4.05" fill="none" stroke="#8080f6" stroke-width="2.15"/>
<circle cx="1490.1" cy="223.5" r="4.05" fill="none" stroke="#8080f6" stroke-width="2.15"/>
<circle cx="1513.9" cy="212.8" r="4.05" fill="none" stroke="#8080f6" stroke-width="2.15"/>
<circle cx="1509.2" cy="219.9" r="4.05" fill="none" stroke="#8080f6" stroke-width="2.15"/>
<circle cx="1525.1" cy="217.6" r="4.05" fill="none" stroke="#8080f6" stroke-width="2.15"/>
<circle cx="1513.9" cy="234.2" r="4.05" fill="none" stroke="#8080f6" stroke-width="2.15"/>
<circle cx="1515.6" cy="236.9" r="4.05" fill="none" stroke="#8080f6" stroke-width="2.15"/>
<circle cx="1488.2" cy="241.5" r="4.05" fill="none" stroke="#8080f6" stroke-width="2.15"/>
<circle cx="1529.8" cy="240.9" r="4.05" fill="none" stroke="#8080f6" stroke-width="2.15"/>
<circle cx="1534.1" cy="252.0" r="4.05" fill="none" stroke="#8080f6" stroke-width="2.15"/>
<circle cx="1531.7" cy="254.4" r="4.05" fill="none" stroke="#8080f6" stroke-width="2.15"/>
<circle cx="1474.7" cy="265.1" r="4.05" fill="none" stroke="#8080f6" stroke-width="2.15"/>
<circle cx="1521.0" cy="284.2" r="4.05" fill="none" stroke="#8080f6" stroke-width="2.15"/>
<circle cx="1450.9" cy="295.3" r="4.05" fill="none" stroke="#8080f6" stroke-width="2.15"/>
<circle cx="1430.2" cy="301.6" r="4.05" fill="none" stroke="#8080f6" stroke-width="2.15"/>
<circle cx="1535.4" cy="302.2" r="4.05" fill="none" stroke="#8080f6" stroke-width="2.15"/>
<circle cx="1590.7" cy="148.1" r="4.05" fill="none" stroke="#8080f6" stroke-width="2.15"/>
<circle cx="1635.5" cy="178.5" r="4.05" fill="none" stroke="#8080f6" stroke-width="2.15"/>
<circle cx="1586.1" cy="220.1" r="4.05" fill="none" stroke="#8080f6" stroke-width="2.15"/>
<circle cx="1623.8" cy="260.0" r="4.05" fill="none" stroke="#8080f6" stroke-width="2.15"/>
<circle cx="1525.8" cy="349.8" r="4.05" fill="none" stroke="#8080f6" stroke-width="2.15"/>
<circle cx="1490.1" cy="376.0" r="4.05" fill="none" stroke="#8080f6" stroke-width="2.15"/>
<circle cx="1554.5" cy="196.0" r="4.05" fill="none" stroke="#f67f7f" stroke-width="2.15"/>
<circle cx="1403.8" cy="375.9" r="4.05" fill="none" stroke="#f67f7f" stroke-width="2.15"/>
<circle cx="1552.5" cy="161.5" r="5.2" fill="#3030ff"/>
<circle cx="1507.3" cy="246.6" r="5.2" fill="#3030ff"/>
<circle cx="1636.3" cy="109.6" r="5.2" fill="#3030ff"/>
<circle cx="1604.9" cy="205.4" r="5.2" fill="#3030ff"/>
<circle cx="1672.8" cy="205.6" r="5.2" fill="#3030ff"/>
<circle cx="1539.3" cy="376.0" r="5.2" fill="#3030ff"/>
<circle cx="1178.1" cy="313.2" r="5.2" fill="#ff3333"/>
<circle cx="1178.1" cy="354.5" r="5.2" fill="#ff3333"/>
<circle cx="1178.1" cy="375.9" r="5.2" fill="#ff3333"/>
<circle cx="1210.0" cy="375.9" r="5.2" fill="#ff3333"/>
<circle cx="1263.9" cy="243.8" r="5.2" fill="#ff3333"/>
<circle cx="1326.4" cy="375.9" r="5.2" fill="#ff3333"/>
<circle cx="1391.8" cy="375.9" r="5.2" fill="#ff3333"/>
<circle cx="1551.9" cy="65.4" r="5.2" fill="#ff3333"/>
<circle cx="1523.4" cy="376.0" r="5.2" fill="#ff3333"/>
<rect x="1162.7" y="45.9" width="526.8999999999999" height="345.0" fill="none" stroke="#000" stroke-width="2.5"/>
<line x1="1153" y1="61.80" x2="1162.7" y2="61.80" stroke="#222" stroke-width="1.8"/>
<text x="0" y="0" transform="translate(1141.00,62.60) rotate(-90)" font-size="15.5" text-anchor="middle" >1000</text>
<line x1="1153" y1="120.96" x2="1162.7" y2="120.96" stroke="#222" stroke-width="1.8"/>
<text x="0" y="0" transform="translate(1141.00,121.76) rotate(-90)" font-size="15.5" text-anchor="middle" >100</text>
<line x1="1153" y1="180.12" x2="1162.7" y2="180.12" stroke="#222" stroke-width="1.8"/>
<text x="0" y="0" transform="translate(1141.00,180.92) rotate(-90)" font-size="15.5" text-anchor="middle" >10</text>
<line x1="1153" y1="239.28" x2="1162.7" y2="239.28" stroke="#222" stroke-width="1.8"/>
<text x="0" y="0" transform="translate(1141.00,240.08) rotate(-90)" font-size="15.5" text-anchor="middle" >1</text>
<line x1="1153" y1="298.44" x2="1162.7" y2="298.44" stroke="#222" stroke-width="1.8"/>
<text x="0" y="0" transform="translate(1141.00,299.24) rotate(-90)" font-size="15.5" text-anchor="middle" >.1</text>
<line x1="1153" y1="357.60" x2="1162.7" y2="357.60" stroke="#222" stroke-width="1.8"/>
<text x="0" y="0" transform="translate(1141.00,358.40) rotate(-90)" font-size="15.5" text-anchor="middle" >.01</text>
<line x1="1200.60" y1="390.9" x2="1200.60" y2="399" stroke="#222" stroke-width="1.8"/>
<text x="1200.60" y="422.20" font-size="15" text-anchor="middle" >.01</text>
<line x1="1274.80" y1="390.9" x2="1274.80" y2="399" stroke="#222" stroke-width="1.8"/>
<text x="1274.80" y="422.20" font-size="15" text-anchor="middle" >.1</text>
<line x1="1349.00" y1="390.9" x2="1349.00" y2="399" stroke="#222" stroke-width="1.8"/>
<text x="1349.00" y="422.20" font-size="15" text-anchor="middle" >1</text>
<line x1="1423.20" y1="390.9" x2="1423.20" y2="399" stroke="#222" stroke-width="1.8"/>
<text x="1423.20" y="422.20" font-size="15" text-anchor="middle" >10</text>
<line x1="1497.40" y1="390.9" x2="1497.40" y2="399" stroke="#222" stroke-width="1.8"/>
<text x="1497.40" y="422.20" font-size="15" text-anchor="middle" >100</text>
<line x1="1571.60" y1="390.9" x2="1571.60" y2="399" stroke="#222" stroke-width="1.8"/>
<text x="1571.60" y="422.20" font-size="15" text-anchor="middle" >1000</text>
<line x1="1645.80" y1="390.9" x2="1645.80" y2="399" stroke="#222" stroke-width="1.8"/>
<text x="1645.80" y="422.20" font-size="15" text-anchor="middle" >10000</text>
<text x="0" y="0" transform="translate(1114.20,219.30) rotate(-90)" font-size="19.5" text-anchor="middle"  textLength="205" lengthAdjust="spacing">Gametocytes/μL (d14)</text>
<text x="1413.05" y="449.80" font-size="19.5" text-anchor="middle"  textLength="209.5" lengthAdjust="spacing">Total parasites/μL (d0)</text>
<rect x="520.7" y="500.1" width="634.8999999999999" height="129.5" fill="none" stroke="#000" stroke-width="2"/>
<circle cx="544.2" cy="522.9" r="3.8" fill="none" stroke="#8c8cff" stroke-width="1.9"/>
<line x1="562.7" y1="521.4" x2="614" y2="521.4" stroke="#a0a0ff" stroke-width="2.2" stroke-dasharray="2 5.6 15.2 5.6"/>
<text x="626.60" y="528.00" font-size="19.5" text-anchor="start" >Chronic asymptomatic</text>
<circle cx="544.2" cy="567.2" r="3.8" fill="none" stroke="#ff8080" stroke-width="1.9"/>
<line x1="562.7" y1="565.8" x2="614" y2="565.8" stroke="#ff8080" stroke-width="2.2" stroke-dasharray="2 5.6 15.2 5.6"/>
<text x="626.60" y="572.50" font-size="19.5" text-anchor="start" >Incident asymptomatic</text>
<circle cx="871" cy="522.9" r="5" fill="#3333ff"/>
<line x1="889.3" y1="521.4" x2="940.6" y2="521.4" stroke="#3333ff" stroke-width="2.2" stroke-dasharray="2 5.6 15.2 5.6"/>
<text x="953.40" y="528.00" font-size="19.5" text-anchor="start" >Chronic symptomatic</text>
<circle cx="871" cy="567.2" r="5" fill="#ff3333"/>
<line x1="889.3" y1="565.8" x2="940.6" y2="565.8" stroke="#ff3333" stroke-width="2.2" stroke-dasharray="2 5.6 15.2 5.6"/>
<text x="953.40" y="572.50" font-size="19.5" text-anchor="start" >Incident symptomatic</text>
<circle cx="735.2" cy="610.6" r="5.5" fill="#000"/>
<text x="771.20" y="616.50" font-size="19.5" text-anchor="start" >Day of symptoms</text>
</svg>
</body></html>
